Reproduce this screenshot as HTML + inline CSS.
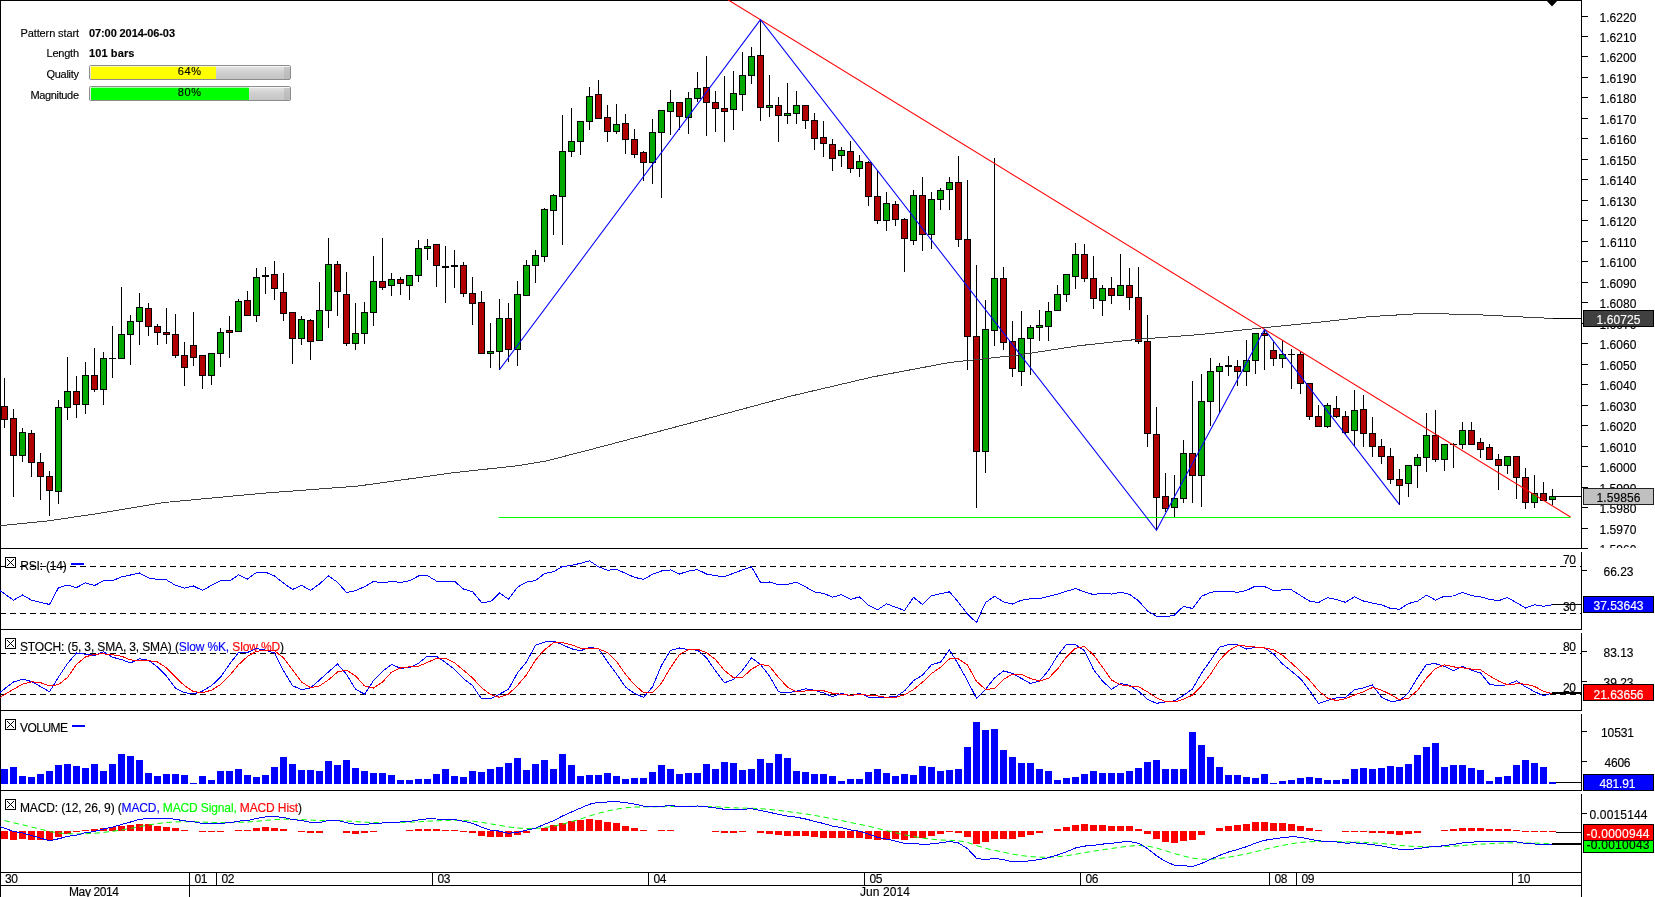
<!DOCTYPE html>
<html><head><meta charset="utf-8"><title>Pattern chart</title>
<style>html,body{margin:0;padding:0;background:#fff}body{width:1655px;height:897px;overflow:hidden;position:relative}svg{position:absolute;left:0;top:0;display:block;will-change:transform}text{font-family:"Liberation Sans",sans-serif;stroke-width:.15px}</style>
</head><body>
<svg width="1655" height="897" viewBox="0 0 1655 897">
<g shape-rendering="crispEdges">
<line x1="0" y1="0.5" x2="1582" y2="0.5" stroke="#000" stroke-width="1"/>
<line x1="0.5" y1="0" x2="0.5" y2="897" stroke="#000" stroke-width="1"/>
<line x1="1581.5" y1="0" x2="1581.5" y2="549" stroke="#000" stroke-width="1"/>
<line x1="0" y1="548.5" x2="1588" y2="548.5" stroke="#000" stroke-width="1"/>
<line x1="1582" y1="16.5" x2="1588" y2="16.5" stroke="#000" stroke-width="1"/>
<line x1="1582" y1="36.5" x2="1588" y2="36.5" stroke="#000" stroke-width="1"/>
<line x1="1582" y1="56.5" x2="1588" y2="56.5" stroke="#000" stroke-width="1"/>
<line x1="1582" y1="77.5" x2="1588" y2="77.5" stroke="#000" stroke-width="1"/>
<line x1="1582" y1="97.5" x2="1588" y2="97.5" stroke="#000" stroke-width="1"/>
<line x1="1582" y1="118.5" x2="1588" y2="118.5" stroke="#000" stroke-width="1"/>
<line x1="1582" y1="138.5" x2="1588" y2="138.5" stroke="#000" stroke-width="1"/>
<line x1="1582" y1="159.5" x2="1588" y2="159.5" stroke="#000" stroke-width="1"/>
<line x1="1582" y1="179.5" x2="1588" y2="179.5" stroke="#000" stroke-width="1"/>
<line x1="1582" y1="200.5" x2="1588" y2="200.5" stroke="#000" stroke-width="1"/>
<line x1="1582" y1="220.5" x2="1588" y2="220.5" stroke="#000" stroke-width="1"/>
<line x1="1582" y1="241.5" x2="1588" y2="241.5" stroke="#000" stroke-width="1"/>
<line x1="1582" y1="261.5" x2="1588" y2="261.5" stroke="#000" stroke-width="1"/>
<line x1="1582" y1="282.5" x2="1588" y2="282.5" stroke="#000" stroke-width="1"/>
<line x1="1582" y1="302.5" x2="1588" y2="302.5" stroke="#000" stroke-width="1"/>
<line x1="1582" y1="323.5" x2="1588" y2="323.5" stroke="#000" stroke-width="1"/>
<line x1="1582" y1="343.5" x2="1588" y2="343.5" stroke="#000" stroke-width="1"/>
<line x1="1582" y1="364.5" x2="1588" y2="364.5" stroke="#000" stroke-width="1"/>
<line x1="1582" y1="384.5" x2="1588" y2="384.5" stroke="#000" stroke-width="1"/>
<line x1="1582" y1="405.5" x2="1588" y2="405.5" stroke="#000" stroke-width="1"/>
<line x1="1582" y1="425.5" x2="1588" y2="425.5" stroke="#000" stroke-width="1"/>
<line x1="1582" y1="446.5" x2="1588" y2="446.5" stroke="#000" stroke-width="1"/>
<line x1="1582" y1="466.5" x2="1588" y2="466.5" stroke="#000" stroke-width="1"/>
<line x1="1582" y1="487.5" x2="1588" y2="487.5" stroke="#000" stroke-width="1"/>
<line x1="1582" y1="507.5" x2="1588" y2="507.5" stroke="#000" stroke-width="1"/>
<line x1="1582" y1="528.5" x2="1588" y2="528.5" stroke="#000" stroke-width="1"/>
</g>
<clipPath id="cm"><rect x="1582" y="0" width="73" height="548"/></clipPath>
<g font-family="Liberation Sans, sans-serif" clip-path="url(#cm)">
<text x="1599.5" y="22" font-size="12" fill="#000" stroke="#000" text-anchor="start" font-weight="normal" textLength="37" lengthAdjust="spacing">1.6220</text>
<text x="1599.5" y="42" font-size="12" fill="#000" stroke="#000" text-anchor="start" font-weight="normal" textLength="37" lengthAdjust="spacing">1.6210</text>
<text x="1599.5" y="62" font-size="12" fill="#000" stroke="#000" text-anchor="start" font-weight="normal" textLength="37" lengthAdjust="spacing">1.6200</text>
<text x="1599.5" y="83" font-size="12" fill="#000" stroke="#000" text-anchor="start" font-weight="normal" textLength="37" lengthAdjust="spacing">1.6190</text>
<text x="1599.5" y="103" font-size="12" fill="#000" stroke="#000" text-anchor="start" font-weight="normal" textLength="37" lengthAdjust="spacing">1.6180</text>
<text x="1599.5" y="124" font-size="12" fill="#000" stroke="#000" text-anchor="start" font-weight="normal" textLength="37" lengthAdjust="spacing">1.6170</text>
<text x="1599.5" y="144" font-size="12" fill="#000" stroke="#000" text-anchor="start" font-weight="normal" textLength="37" lengthAdjust="spacing">1.6160</text>
<text x="1599.5" y="165" font-size="12" fill="#000" stroke="#000" text-anchor="start" font-weight="normal" textLength="37" lengthAdjust="spacing">1.6150</text>
<text x="1599.5" y="185" font-size="12" fill="#000" stroke="#000" text-anchor="start" font-weight="normal" textLength="37" lengthAdjust="spacing">1.6140</text>
<text x="1599.5" y="206" font-size="12" fill="#000" stroke="#000" text-anchor="start" font-weight="normal" textLength="37" lengthAdjust="spacing">1.6130</text>
<text x="1599.5" y="226" font-size="12" fill="#000" stroke="#000" text-anchor="start" font-weight="normal" textLength="37" lengthAdjust="spacing">1.6120</text>
<text x="1599.5" y="247" font-size="12" fill="#000" stroke="#000" text-anchor="start" font-weight="normal" textLength="37" lengthAdjust="spacing">1.6110</text>
<text x="1599.5" y="267" font-size="12" fill="#000" stroke="#000" text-anchor="start" font-weight="normal" textLength="37" lengthAdjust="spacing">1.6100</text>
<text x="1599.5" y="288" font-size="12" fill="#000" stroke="#000" text-anchor="start" font-weight="normal" textLength="37" lengthAdjust="spacing">1.6090</text>
<text x="1599.5" y="308" font-size="12" fill="#000" stroke="#000" text-anchor="start" font-weight="normal" textLength="37" lengthAdjust="spacing">1.6080</text>
<text x="1599.5" y="329" font-size="12" fill="#000" stroke="#000" text-anchor="start" font-weight="normal" textLength="37" lengthAdjust="spacing">1.6070</text>
<text x="1599.5" y="349" font-size="12" fill="#000" stroke="#000" text-anchor="start" font-weight="normal" textLength="37" lengthAdjust="spacing">1.6060</text>
<text x="1599.5" y="370" font-size="12" fill="#000" stroke="#000" text-anchor="start" font-weight="normal" textLength="37" lengthAdjust="spacing">1.6050</text>
<text x="1599.5" y="390" font-size="12" fill="#000" stroke="#000" text-anchor="start" font-weight="normal" textLength="37" lengthAdjust="spacing">1.6040</text>
<text x="1599.5" y="411" font-size="12" fill="#000" stroke="#000" text-anchor="start" font-weight="normal" textLength="37" lengthAdjust="spacing">1.6030</text>
<text x="1599.5" y="431" font-size="12" fill="#000" stroke="#000" text-anchor="start" font-weight="normal" textLength="37" lengthAdjust="spacing">1.6020</text>
<text x="1599.5" y="452" font-size="12" fill="#000" stroke="#000" text-anchor="start" font-weight="normal" textLength="37" lengthAdjust="spacing">1.6010</text>
<text x="1599.5" y="472" font-size="12" fill="#000" stroke="#000" text-anchor="start" font-weight="normal" textLength="37" lengthAdjust="spacing">1.6000</text>
<text x="1599.5" y="493" font-size="12" fill="#000" stroke="#000" text-anchor="start" font-weight="normal" textLength="37" lengthAdjust="spacing">1.5990</text>
<text x="1599.5" y="513" font-size="12" fill="#000" stroke="#000" text-anchor="start" font-weight="normal" textLength="37" lengthAdjust="spacing">1.5980</text>
<text x="1599.5" y="534" font-size="12" fill="#000" stroke="#000" text-anchor="start" font-weight="normal" textLength="37" lengthAdjust="spacing">1.5970</text>
<text x="1599.5" y="554" font-size="12" fill="#000" stroke="#000" text-anchor="start" font-weight="normal" textLength="37" lengthAdjust="spacing">1.5960</text>
</g>
<g shape-rendering="crispEdges" stroke="#000" stroke-width="1">
<line x1="4.5" y1="378" x2="4.5" y2="428"/>
<rect x="1.5" y="406.5" width="6" height="13" fill="#b00000"/>
<line x1="13.5" y1="409" x2="13.5" y2="497"/>
<rect x="10.5" y="418.5" width="6" height="37" fill="#b00000"/>
<line x1="22.5" y1="428" x2="22.5" y2="462"/>
<rect x="19.5" y="432.5" width="6" height="23" fill="#00a800"/>
<line x1="31.5" y1="430" x2="31.5" y2="477"/>
<rect x="28.5" y="433.5" width="6" height="29" fill="#b00000"/>
<line x1="40.5" y1="453" x2="40.5" y2="500"/>
<rect x="37.5" y="462.5" width="6" height="14" fill="#b00000"/>
<line x1="49.5" y1="471" x2="49.5" y2="516"/>
<rect x="46.5" y="476.5" width="6" height="14" fill="#b00000"/>
<line x1="58.5" y1="400" x2="58.5" y2="504"/>
<rect x="55.5" y="407.5" width="6" height="84" fill="#00a800"/>
<line x1="67.5" y1="357" x2="67.5" y2="420"/>
<rect x="64.5" y="391.5" width="6" height="16" fill="#00a800"/>
<line x1="76.5" y1="376" x2="76.5" y2="418"/>
<rect x="73.5" y="391.5" width="6" height="13" fill="#b00000"/>
<line x1="85.5" y1="362" x2="85.5" y2="414"/>
<rect x="82.5" y="375.5" width="6" height="29" fill="#00a800"/>
<line x1="94.5" y1="348" x2="94.5" y2="392"/>
<rect x="91.5" y="375.5" width="6" height="14" fill="#b00000"/>
<line x1="103.5" y1="352" x2="103.5" y2="405"/>
<rect x="100.5" y="358.5" width="6" height="31" fill="#00a800"/>
<line x1="112.5" y1="326" x2="112.5" y2="378"/>
<line x1="109.0" y1="358.5" x2="116.0" y2="358.5"/>
<line x1="121.5" y1="287" x2="121.5" y2="358"/>
<rect x="118.5" y="334.5" width="6" height="24" fill="#00a800"/>
<line x1="130.5" y1="315" x2="130.5" y2="365"/>
<rect x="127.5" y="321.5" width="6" height="13" fill="#00a800"/>
<line x1="139.5" y1="293" x2="139.5" y2="345"/>
<rect x="136.5" y="307.5" width="6" height="14" fill="#00a800"/>
<line x1="148.5" y1="303" x2="148.5" y2="336"/>
<rect x="145.5" y="308.5" width="6" height="18" fill="#b00000"/>
<line x1="157.5" y1="324" x2="157.5" y2="345"/>
<rect x="154.5" y="326.5" width="6" height="6" fill="#b00000"/>
<line x1="166.5" y1="308" x2="166.5" y2="344"/>
<rect x="163.5" y="332.5" width="6" height="2" fill="#b00000"/>
<line x1="175.5" y1="314" x2="175.5" y2="358"/>
<rect x="172.5" y="334.5" width="6" height="21" fill="#b00000"/>
<line x1="184.5" y1="342" x2="184.5" y2="386"/>
<rect x="181.5" y="355.5" width="6" height="12" fill="#b00000"/>
<line x1="193.5" y1="312" x2="193.5" y2="366"/>
<rect x="190.5" y="345.5" width="6" height="12" fill="#b00000"/>
<line x1="202.5" y1="355" x2="202.5" y2="389"/>
<rect x="199.5" y="355.5" width="6" height="20" fill="#b00000"/>
<line x1="211.5" y1="353" x2="211.5" y2="385"/>
<rect x="208.5" y="353.5" width="6" height="22" fill="#00a800"/>
<line x1="220.5" y1="328" x2="220.5" y2="367"/>
<rect x="217.5" y="332.5" width="6" height="21" fill="#00a800"/>
<line x1="229.5" y1="316" x2="229.5" y2="358"/>
<rect x="226.5" y="330.5" width="6" height="2" fill="#b00000"/>
<line x1="238.5" y1="299" x2="238.5" y2="332"/>
<rect x="235.5" y="301.5" width="6" height="30" fill="#00a800"/>
<line x1="247.5" y1="291" x2="247.5" y2="316"/>
<rect x="244.5" y="300.5" width="6" height="15" fill="#b00000"/>
<line x1="256.5" y1="268" x2="256.5" y2="322"/>
<rect x="253.5" y="277.5" width="6" height="38" fill="#00a800"/>
<line x1="265.5" y1="267" x2="265.5" y2="294"/>
<rect x="262.0" y="275" width="7" height="2" fill="#000" stroke="none"/>
<line x1="274.5" y1="261" x2="274.5" y2="300"/>
<rect x="271.5" y="274.5" width="6" height="14" fill="#b00000"/>
<line x1="283.5" y1="273" x2="283.5" y2="321"/>
<rect x="280.5" y="292.5" width="6" height="21" fill="#b00000"/>
<line x1="292.5" y1="312" x2="292.5" y2="364"/>
<rect x="289.5" y="312.5" width="6" height="26" fill="#b00000"/>
<line x1="301.5" y1="316" x2="301.5" y2="345"/>
<rect x="298.5" y="319.5" width="6" height="19" fill="#00a800"/>
<line x1="310.5" y1="319" x2="310.5" y2="360"/>
<rect x="307.5" y="320.5" width="6" height="21" fill="#b00000"/>
<line x1="319.5" y1="282" x2="319.5" y2="340"/>
<rect x="316.5" y="310.5" width="6" height="30" fill="#00a800"/>
<line x1="328.5" y1="238" x2="328.5" y2="328"/>
<rect x="325.5" y="264.5" width="6" height="46" fill="#00a800"/>
<line x1="337.5" y1="261" x2="337.5" y2="316"/>
<rect x="334.5" y="264.5" width="6" height="27" fill="#b00000"/>
<line x1="346.5" y1="272" x2="346.5" y2="346"/>
<rect x="343.5" y="294.5" width="6" height="49" fill="#b00000"/>
<line x1="355.5" y1="303" x2="355.5" y2="350"/>
<rect x="352.5" y="333.5" width="6" height="10" fill="#00a800"/>
<line x1="364.5" y1="302" x2="364.5" y2="344"/>
<rect x="361.5" y="312.5" width="6" height="21" fill="#00a800"/>
<line x1="373.5" y1="256" x2="373.5" y2="326"/>
<rect x="370.5" y="281.5" width="6" height="31" fill="#00a800"/>
<line x1="382.5" y1="238" x2="382.5" y2="290"/>
<rect x="379.5" y="281.5" width="6" height="6" fill="#b00000"/>
<line x1="391.5" y1="273" x2="391.5" y2="296"/>
<rect x="388.5" y="279.5" width="6" height="6" fill="#00a800"/>
<line x1="400.5" y1="277" x2="400.5" y2="295"/>
<rect x="397.5" y="279.5" width="6" height="4" fill="#b00000"/>
<line x1="409.5" y1="275" x2="409.5" y2="300"/>
<rect x="406.5" y="275.5" width="6" height="10" fill="#00a800"/>
<line x1="418.5" y1="240" x2="418.5" y2="282"/>
<rect x="415.5" y="248.5" width="6" height="27" fill="#00a800"/>
<line x1="427.5" y1="239" x2="427.5" y2="260"/>
<rect x="424.5" y="246.5" width="6" height="2" fill="#00a800"/>
<line x1="436.5" y1="244" x2="436.5" y2="287"/>
<rect x="433.5" y="244.5" width="6" height="21" fill="#b00000"/>
<line x1="445.5" y1="246" x2="445.5" y2="303"/>
<rect x="442.0" y="266" width="7" height="2" fill="#000" stroke="none"/>
<line x1="454.5" y1="250" x2="454.5" y2="288"/>
<rect x="451.0" y="265" width="7" height="2" fill="#000" stroke="none"/>
<line x1="463.5" y1="262" x2="463.5" y2="297"/>
<rect x="460.5" y="265.5" width="6" height="28" fill="#b00000"/>
<line x1="472.5" y1="277" x2="472.5" y2="325"/>
<rect x="469.5" y="293.5" width="6" height="10" fill="#b00000"/>
<line x1="481.5" y1="291" x2="481.5" y2="354"/>
<rect x="478.5" y="302.5" width="6" height="51" fill="#b00000"/>
<line x1="490.5" y1="323" x2="490.5" y2="368"/>
<rect x="487.5" y="351.5" width="6" height="2" fill="#00a800"/>
<line x1="499.5" y1="299" x2="499.5" y2="370"/>
<rect x="496.5" y="318.5" width="6" height="33" fill="#00a800"/>
<line x1="508.5" y1="303" x2="508.5" y2="362"/>
<rect x="505.5" y="318.5" width="6" height="31" fill="#b00000"/>
<line x1="517.5" y1="281" x2="517.5" y2="366"/>
<rect x="514.5" y="294.5" width="6" height="55" fill="#00a800"/>
<line x1="526.5" y1="260" x2="526.5" y2="295"/>
<rect x="523.5" y="265.5" width="6" height="30" fill="#00a800"/>
<line x1="535.5" y1="250" x2="535.5" y2="283"/>
<rect x="532.5" y="255.5" width="6" height="10" fill="#00a800"/>
<line x1="544.5" y1="208" x2="544.5" y2="262"/>
<rect x="541.5" y="209.5" width="6" height="47" fill="#00a800"/>
<line x1="553.5" y1="194" x2="553.5" y2="235"/>
<rect x="550.5" y="195.5" width="6" height="15" fill="#00a800"/>
<line x1="562.5" y1="115" x2="562.5" y2="245"/>
<rect x="559.5" y="151.5" width="6" height="45" fill="#00a800"/>
<line x1="571.5" y1="108" x2="571.5" y2="157"/>
<rect x="568.5" y="141.5" width="6" height="10" fill="#00a800"/>
<line x1="580.5" y1="121" x2="580.5" y2="155"/>
<rect x="577.5" y="121.5" width="6" height="20" fill="#00a800"/>
<line x1="589.5" y1="87" x2="589.5" y2="130"/>
<rect x="586.5" y="96.5" width="6" height="25" fill="#00a800"/>
<line x1="598.5" y1="80" x2="598.5" y2="118"/>
<rect x="595.5" y="94.5" width="6" height="24" fill="#b00000"/>
<line x1="607.5" y1="105" x2="607.5" y2="142"/>
<rect x="604.5" y="117.5" width="6" height="14" fill="#b00000"/>
<line x1="616.5" y1="104" x2="616.5" y2="134"/>
<rect x="613.5" y="124.5" width="6" height="7" fill="#00a800"/>
<line x1="625.5" y1="114" x2="625.5" y2="154"/>
<rect x="622.5" y="123.5" width="6" height="16" fill="#b00000"/>
<line x1="634.5" y1="129" x2="634.5" y2="158"/>
<rect x="631.5" y="139.5" width="6" height="15" fill="#b00000"/>
<line x1="643.5" y1="151" x2="643.5" y2="181"/>
<rect x="640.5" y="152.5" width="6" height="10" fill="#b00000"/>
<line x1="652.5" y1="119" x2="652.5" y2="184"/>
<rect x="649.5" y="132.5" width="6" height="30" fill="#00a800"/>
<line x1="661.5" y1="110" x2="661.5" y2="198"/>
<rect x="658.5" y="110.5" width="6" height="22" fill="#00a800"/>
<line x1="670.5" y1="90" x2="670.5" y2="135"/>
<rect x="667.5" y="102.5" width="6" height="9" fill="#00a800"/>
<line x1="679.5" y1="102" x2="679.5" y2="130"/>
<rect x="676.5" y="102.5" width="6" height="14" fill="#b00000"/>
<line x1="688.5" y1="92" x2="688.5" y2="134"/>
<rect x="685.5" y="98.5" width="6" height="19" fill="#00a800"/>
<line x1="697.5" y1="72" x2="697.5" y2="102"/>
<rect x="694.5" y="88.5" width="6" height="10" fill="#00a800"/>
<line x1="706.5" y1="56" x2="706.5" y2="136"/>
<rect x="703.5" y="87.5" width="6" height="15" fill="#b00000"/>
<line x1="715.5" y1="91" x2="715.5" y2="132"/>
<rect x="712.5" y="102.5" width="6" height="6" fill="#b00000"/>
<line x1="724.5" y1="76" x2="724.5" y2="142"/>
<rect x="721.5" y="108.5" width="6" height="3" fill="#b00000"/>
<line x1="733.5" y1="71" x2="733.5" y2="130"/>
<rect x="730.5" y="93.5" width="6" height="16" fill="#00a800"/>
<line x1="742.5" y1="52" x2="742.5" y2="111"/>
<rect x="739.5" y="75.5" width="6" height="19" fill="#00a800"/>
<line x1="751.5" y1="47" x2="751.5" y2="84"/>
<rect x="748.5" y="56.5" width="6" height="19" fill="#00a800"/>
<line x1="760.5" y1="20" x2="760.5" y2="121"/>
<rect x="757.5" y="55.5" width="6" height="52" fill="#b00000"/>
<line x1="769.5" y1="75" x2="769.5" y2="117"/>
<rect x="766.5" y="105.5" width="6" height="2" fill="#00a800"/>
<line x1="778.5" y1="97" x2="778.5" y2="142"/>
<rect x="775.5" y="105.5" width="6" height="10" fill="#b00000"/>
<line x1="787.5" y1="83" x2="787.5" y2="124"/>
<rect x="784.5" y="113.5" width="6" height="2" fill="#00a800"/>
<line x1="796.5" y1="91" x2="796.5" y2="124"/>
<rect x="793.5" y="105.5" width="6" height="8" fill="#00a800"/>
<line x1="805.5" y1="105" x2="805.5" y2="129"/>
<rect x="802.5" y="105.5" width="6" height="15" fill="#b00000"/>
<line x1="814.5" y1="113" x2="814.5" y2="150"/>
<rect x="811.5" y="120.5" width="6" height="18" fill="#b00000"/>
<line x1="823.5" y1="121" x2="823.5" y2="157"/>
<rect x="820.5" y="137.5" width="6" height="6" fill="#b00000"/>
<line x1="832.5" y1="139" x2="832.5" y2="171"/>
<rect x="829.5" y="144.5" width="6" height="14" fill="#b00000"/>
<line x1="841.5" y1="147" x2="841.5" y2="167"/>
<rect x="838.5" y="150.5" width="6" height="5" fill="#00a800"/>
<line x1="850.5" y1="141" x2="850.5" y2="173"/>
<rect x="847.5" y="151.5" width="6" height="17" fill="#b00000"/>
<line x1="859.5" y1="155" x2="859.5" y2="177"/>
<rect x="856.5" y="161.5" width="6" height="7" fill="#00a800"/>
<line x1="868.5" y1="161" x2="868.5" y2="206"/>
<rect x="865.5" y="162.5" width="6" height="34" fill="#b00000"/>
<line x1="877.5" y1="170" x2="877.5" y2="224"/>
<rect x="874.5" y="196.5" width="6" height="24" fill="#b00000"/>
<line x1="886.5" y1="192" x2="886.5" y2="231"/>
<rect x="883.5" y="203.5" width="6" height="17" fill="#00a800"/>
<line x1="895.5" y1="201" x2="895.5" y2="226"/>
<rect x="892.5" y="204.5" width="6" height="15" fill="#b00000"/>
<line x1="904.5" y1="218" x2="904.5" y2="272"/>
<rect x="901.5" y="219.5" width="6" height="19" fill="#b00000"/>
<line x1="913.5" y1="190" x2="913.5" y2="245"/>
<rect x="910.5" y="195.5" width="6" height="45" fill="#00a800"/>
<line x1="922.5" y1="177" x2="922.5" y2="251"/>
<rect x="919.5" y="195.5" width="6" height="39" fill="#b00000"/>
<line x1="931.5" y1="192" x2="931.5" y2="249"/>
<rect x="928.5" y="199.5" width="6" height="35" fill="#00a800"/>
<line x1="940.5" y1="188" x2="940.5" y2="210"/>
<rect x="937.5" y="190.5" width="6" height="9" fill="#00a800"/>
<line x1="949.5" y1="177" x2="949.5" y2="210"/>
<rect x="946.5" y="182.5" width="6" height="7" fill="#00a800"/>
<line x1="958.5" y1="156" x2="958.5" y2="247"/>
<rect x="955.5" y="182.5" width="6" height="57" fill="#b00000"/>
<line x1="967.5" y1="180" x2="967.5" y2="370"/>
<rect x="964.5" y="239.5" width="6" height="97" fill="#b00000"/>
<line x1="976.5" y1="265" x2="976.5" y2="508"/>
<rect x="973.5" y="336.5" width="6" height="115" fill="#b00000"/>
<line x1="985.5" y1="300" x2="985.5" y2="473"/>
<rect x="982.5" y="329.5" width="6" height="122" fill="#00a800"/>
<line x1="994.5" y1="158" x2="994.5" y2="346"/>
<rect x="991.5" y="278.5" width="6" height="52" fill="#00a800"/>
<line x1="1003.5" y1="267" x2="1003.5" y2="350"/>
<rect x="1000.5" y="278.5" width="6" height="64" fill="#b00000"/>
<line x1="1012.5" y1="321" x2="1012.5" y2="377"/>
<rect x="1009.5" y="341.5" width="6" height="27" fill="#b00000"/>
<line x1="1021.5" y1="311" x2="1021.5" y2="386"/>
<rect x="1018.5" y="338.5" width="6" height="33" fill="#00a800"/>
<line x1="1030.5" y1="325" x2="1030.5" y2="375"/>
<rect x="1027.5" y="327.5" width="6" height="11" fill="#00a800"/>
<line x1="1039.5" y1="310" x2="1039.5" y2="341"/>
<rect x="1036.5" y="325.5" width="6" height="2" fill="#00a800"/>
<line x1="1048.5" y1="302" x2="1048.5" y2="341"/>
<rect x="1045.5" y="311.5" width="6" height="15" fill="#00a800"/>
<line x1="1057.5" y1="285" x2="1057.5" y2="310"/>
<rect x="1054.5" y="294.5" width="6" height="16" fill="#00a800"/>
<line x1="1066.5" y1="274" x2="1066.5" y2="302"/>
<rect x="1063.5" y="274.5" width="6" height="20" fill="#00a800"/>
<line x1="1075.5" y1="243" x2="1075.5" y2="289"/>
<rect x="1072.5" y="254.5" width="6" height="22" fill="#00a800"/>
<line x1="1084.5" y1="244" x2="1084.5" y2="282"/>
<rect x="1081.5" y="254.5" width="6" height="24" fill="#b00000"/>
<line x1="1093.5" y1="256" x2="1093.5" y2="309"/>
<rect x="1090.5" y="278.5" width="6" height="20" fill="#b00000"/>
<line x1="1102.5" y1="285" x2="1102.5" y2="316"/>
<rect x="1099.5" y="288.5" width="6" height="12" fill="#00a800"/>
<line x1="1111.5" y1="277" x2="1111.5" y2="304"/>
<rect x="1108.5" y="288.5" width="6" height="7" fill="#b00000"/>
<line x1="1120.5" y1="254" x2="1120.5" y2="295"/>
<rect x="1117.5" y="285.5" width="6" height="10" fill="#00a800"/>
<line x1="1129.5" y1="268" x2="1129.5" y2="310"/>
<rect x="1126.5" y="285.5" width="6" height="12" fill="#b00000"/>
<line x1="1138.5" y1="267" x2="1138.5" y2="344"/>
<rect x="1135.5" y="297.5" width="6" height="44" fill="#b00000"/>
<line x1="1147.5" y1="315" x2="1147.5" y2="447"/>
<rect x="1144.5" y="341.5" width="6" height="92" fill="#b00000"/>
<line x1="1156.5" y1="407" x2="1156.5" y2="530"/>
<rect x="1153.5" y="434.5" width="6" height="63" fill="#b00000"/>
<line x1="1165.5" y1="473" x2="1165.5" y2="512"/>
<rect x="1162.5" y="496.5" width="6" height="12" fill="#b00000"/>
<line x1="1174.5" y1="475" x2="1174.5" y2="517"/>
<rect x="1171.5" y="498.5" width="6" height="9" fill="#00a800"/>
<line x1="1183.5" y1="440" x2="1183.5" y2="503"/>
<rect x="1180.5" y="453.5" width="6" height="45" fill="#00a800"/>
<line x1="1192.5" y1="381" x2="1192.5" y2="503"/>
<rect x="1189.5" y="453.5" width="6" height="22" fill="#b00000"/>
<line x1="1201.5" y1="374" x2="1201.5" y2="507"/>
<rect x="1198.5" y="401.5" width="6" height="74" fill="#00a800"/>
<line x1="1210.5" y1="358" x2="1210.5" y2="426"/>
<rect x="1207.5" y="371.5" width="6" height="30" fill="#00a800"/>
<line x1="1219.5" y1="363" x2="1219.5" y2="413"/>
<rect x="1216.5" y="366.5" width="6" height="5" fill="#00a800"/>
<line x1="1228.5" y1="356" x2="1228.5" y2="376"/>
<rect x="1225.0" y="365" width="7" height="2" fill="#000" stroke="none"/>
<line x1="1237.5" y1="360" x2="1237.5" y2="386"/>
<rect x="1234.5" y="366.5" width="6" height="5" fill="#b00000"/>
<line x1="1246.5" y1="340" x2="1246.5" y2="386"/>
<rect x="1243.5" y="360.5" width="6" height="11" fill="#00a800"/>
<line x1="1255.5" y1="334" x2="1255.5" y2="374"/>
<rect x="1252.5" y="333.5" width="6" height="27" fill="#00a800"/>
<line x1="1264.5" y1="330" x2="1264.5" y2="370"/>
<rect x="1261.5" y="333.5" width="6" height="2" fill="#b00000"/>
<line x1="1273.5" y1="342" x2="1273.5" y2="366"/>
<rect x="1270.5" y="350.5" width="6" height="8" fill="#b00000"/>
<line x1="1282.5" y1="340" x2="1282.5" y2="368"/>
<rect x="1279.5" y="354.5" width="6" height="4" fill="#00a800"/>
<line x1="1291.5" y1="349" x2="1291.5" y2="389"/>
<line x1="1288.0" y1="354.5" x2="1295.0" y2="354.5"/>
<line x1="1300.5" y1="352" x2="1300.5" y2="394"/>
<rect x="1297.5" y="354.5" width="6" height="29" fill="#b00000"/>
<line x1="1309.5" y1="384" x2="1309.5" y2="420"/>
<rect x="1306.5" y="383.5" width="6" height="33" fill="#b00000"/>
<line x1="1318.5" y1="405" x2="1318.5" y2="426"/>
<rect x="1315.5" y="416.5" width="6" height="10" fill="#b00000"/>
<line x1="1327.5" y1="403" x2="1327.5" y2="428"/>
<rect x="1324.5" y="405.5" width="6" height="21" fill="#00a800"/>
<line x1="1336.5" y1="396" x2="1336.5" y2="418"/>
<rect x="1333.5" y="408.5" width="6" height="8" fill="#b00000"/>
<line x1="1345.5" y1="411" x2="1345.5" y2="434"/>
<rect x="1342.5" y="416.5" width="6" height="16" fill="#b00000"/>
<line x1="1354.5" y1="390" x2="1354.5" y2="446"/>
<rect x="1351.5" y="410.5" width="6" height="20" fill="#00a800"/>
<line x1="1363.5" y1="395" x2="1363.5" y2="447"/>
<rect x="1360.5" y="409.5" width="6" height="24" fill="#b00000"/>
<line x1="1372.5" y1="417" x2="1372.5" y2="457"/>
<rect x="1369.5" y="433.5" width="6" height="13" fill="#b00000"/>
<line x1="1381.5" y1="439" x2="1381.5" y2="464"/>
<rect x="1378.5" y="446.5" width="6" height="10" fill="#b00000"/>
<line x1="1390.5" y1="448" x2="1390.5" y2="484"/>
<rect x="1387.5" y="456.5" width="6" height="23" fill="#b00000"/>
<line x1="1399.5" y1="469" x2="1399.5" y2="505"/>
<rect x="1396.5" y="479.5" width="6" height="6" fill="#b00000"/>
<line x1="1408.5" y1="466" x2="1408.5" y2="497"/>
<rect x="1405.5" y="465.5" width="6" height="18" fill="#00a800"/>
<line x1="1417.5" y1="454" x2="1417.5" y2="488"/>
<rect x="1414.5" y="457.5" width="6" height="8" fill="#00a800"/>
<line x1="1426.5" y1="413" x2="1426.5" y2="472"/>
<rect x="1423.5" y="435.5" width="6" height="22" fill="#00a800"/>
<line x1="1435.5" y1="410" x2="1435.5" y2="462"/>
<rect x="1432.5" y="435.5" width="6" height="24" fill="#b00000"/>
<line x1="1444.5" y1="444" x2="1444.5" y2="471"/>
<rect x="1441.5" y="444.5" width="6" height="15" fill="#00a800"/>
<line x1="1453.5" y1="443" x2="1453.5" y2="468"/>
<line x1="1450.0" y1="444.5" x2="1457.0" y2="444.5"/>
<line x1="1462.5" y1="422" x2="1462.5" y2="449"/>
<rect x="1459.5" y="430.5" width="6" height="14" fill="#00a800"/>
<line x1="1471.5" y1="422" x2="1471.5" y2="444"/>
<rect x="1468.5" y="430.5" width="6" height="14" fill="#b00000"/>
<line x1="1480.5" y1="438" x2="1480.5" y2="458"/>
<rect x="1477.5" y="442.5" width="6" height="7" fill="#b00000"/>
<line x1="1489.5" y1="444" x2="1489.5" y2="460"/>
<rect x="1486.5" y="447.5" width="6" height="12" fill="#b00000"/>
<line x1="1498.5" y1="454" x2="1498.5" y2="490"/>
<rect x="1495.5" y="459.5" width="6" height="6" fill="#b00000"/>
<line x1="1507.5" y1="456" x2="1507.5" y2="474"/>
<rect x="1504.5" y="456.5" width="6" height="9" fill="#00a800"/>
<line x1="1516.5" y1="456" x2="1516.5" y2="499"/>
<rect x="1513.5" y="456.5" width="6" height="21" fill="#b00000"/>
<line x1="1525.5" y1="468" x2="1525.5" y2="509"/>
<rect x="1522.5" y="477.5" width="6" height="25" fill="#b00000"/>
<line x1="1534.5" y1="475" x2="1534.5" y2="508"/>
<rect x="1531.5" y="493.5" width="6" height="9" fill="#00a800"/>
<line x1="1543.5" y1="482" x2="1543.5" y2="500"/>
<rect x="1540.5" y="493.5" width="6" height="7" fill="#b00000"/>
<line x1="1552.5" y1="489" x2="1552.5" y2="505"/>
<rect x="1549.5" y="496.5" width="6" height="3" fill="#00a800"/>
</g>
<polyline fill="none" shape-rendering="crispEdges" stroke="#404040" stroke-width="1" points="0,525.7 48.3,520.9 96.7,513.7 164.3,502.5 261,493.4 357.7,486.1 454.3,472.6 517.2,465.8 546.2,461 604.2,446 676.7,426.7 734.7,411.2 790,396.3 872.2,377 949.5,362.5 1017.2,355.2 1080,345.6 1138,339.3 1200.8,334.5 1263.7,327.7 1321.7,321.9 1370,316.6 1418.3,313.7 1466.7,314.2 1515,316.6 1553.7,318.5"/>
<g shape-rendering="crispEdges">
<line x1="1553" y1="318.5" x2="1582" y2="318.5" stroke="#000" stroke-width="1"/>
</g>
<g fill="none" stroke-width="1.05" stroke-linecap="butt">
<line x1="498.5" y1="517.4" x2="1570.5" y2="517.4" stroke="#00ff00"/>
<line x1="728.3" y1="0" x2="1570.5" y2="517" stroke="#ff0000"/>
<polyline stroke="#0000ff" points="499.5,369.6 760.5,19.7 1156.5,530.2 1264.5,329.5 1399.5,504.6"/>
</g>
<g shape-rendering="crispEdges">
<line x1="1556" y1="496.5" x2="1582" y2="496.5" stroke="#000" stroke-width="1"/>
</g>
<polygon points="1546,0 1558,0 1552,6.5" fill="#000"/>
<g font-family="Liberation Sans, sans-serif">
<rect x="1583.5" y="310.5" width="70" height="16" fill="#404040" stroke="#000" shape-rendering="crispEdges"/>
<text x="1596.5" y="324" font-size="12" fill="#fff" stroke="#fff" text-anchor="start" font-weight="normal" textLength="44" lengthAdjust="spacing">1.60725</text>
<rect x="1583.5" y="488.5" width="70" height="16" fill="#c0c0c0" stroke="#202020" shape-rendering="crispEdges"/>
<text x="1596.5" y="502" font-size="12" fill="#000" stroke="#000" text-anchor="start" font-weight="normal" textLength="44" lengthAdjust="spacing">1.59856</text>
</g>
<g font-family="Liberation Sans, sans-serif" font-size="11">
<text x="79" y="37" font-size="11" fill="#000" stroke="#000" text-anchor="end" font-weight="normal" textLength="58.5" lengthAdjust="spacing">Pattern start</text>
<text x="79" y="57" font-size="11" fill="#000" stroke="#000" text-anchor="end" font-weight="normal" textLength="32.5" lengthAdjust="spacing">Length</text>
<text x="79" y="78" font-size="11" fill="#000" stroke="#000" text-anchor="end" font-weight="normal" textLength="32.5" lengthAdjust="spacing">Quality</text>
<text x="79" y="99" font-size="11" fill="#000" stroke="#000" text-anchor="end" font-weight="normal" textLength="48.5" lengthAdjust="spacing">Magnitude</text>
<text x="89" y="37" font-size="11" fill="#000" stroke="#000" text-anchor="start" font-weight="bold" textLength="86" lengthAdjust="spacing">07:00 2014-06-03</text>
<text x="89" y="57" font-size="11" fill="#000" stroke="#000" text-anchor="start" font-weight="bold" textLength="45.4" lengthAdjust="spacing">101 bars</text>
</g>
<defs><linearGradient id="pg" x1="0" y1="0" x2="0" y2="1"><stop offset="0" stop-color="#e8e8e8"/><stop offset="0.45" stop-color="#d0d0d0"/><stop offset="1" stop-color="#c4c4c4"/></linearGradient></defs>
<rect x="89.5" y="65.5" width="201" height="14" rx="1.5" fill="url(#pg)" stroke="#8c8c8c"/>
<rect x="91" y="66" width="125" height="13" fill="#ffff00"/>
<rect x="90" y="66" width="200" height="1" fill="#fff" opacity="0.65"/>
<rect x="90" y="66" width="1" height="13" fill="#fff" opacity="0.5"/>
<rect x="284" y="67" width="6" height="12" fill="#b0b0b0" opacity="0.5"/>
<text x="189.5" y="75" font-size="11" fill="#000" stroke="#000" text-anchor="middle" font-weight="normal" textLength="23.3" lengthAdjust="spacing" font-family="Liberation Sans, sans-serif">64%</text>
<rect x="89.5" y="86.5" width="201" height="14" rx="1.5" fill="url(#pg)" stroke="#8c8c8c"/>
<rect x="91" y="87" width="158" height="13" fill="#00ff00"/>
<rect x="90" y="87" width="200" height="1" fill="#fff" opacity="0.65"/>
<rect x="90" y="87" width="1" height="13" fill="#fff" opacity="0.5"/>
<rect x="284" y="88" width="6" height="12" fill="#b0b0b0" opacity="0.5"/>
<text x="189.5" y="96" font-size="11" fill="#000" stroke="#000" text-anchor="middle" font-weight="normal" textLength="23.3" lengthAdjust="spacing" font-family="Liberation Sans, sans-serif">80%</text>
<g shape-rendering="crispEdges">
<line x1="1581.5" y1="552" x2="1581.5" y2="630" stroke="#000" stroke-width="1"/>
<line x1="0" y1="629.5" x2="1582" y2="629.5" stroke="#000" stroke-width="1"/>
</g>
<g shape-rendering="crispEdges">
<line x1="1581.5" y1="633" x2="1581.5" y2="711" stroke="#000" stroke-width="1"/>
<line x1="0" y1="710.5" x2="1582" y2="710.5" stroke="#000" stroke-width="1"/>
</g>
<g shape-rendering="crispEdges">
<line x1="1581.5" y1="714" x2="1581.5" y2="791" stroke="#000" stroke-width="1"/>
<line x1="0" y1="790.5" x2="1582" y2="790.5" stroke="#000" stroke-width="1"/>
</g>
<g shape-rendering="crispEdges">
<line x1="1581.5" y1="794" x2="1581.5" y2="897" stroke="#000" stroke-width="1"/>
</g>
<line x1="0" y1="566.5" x2="1581" y2="566.5" stroke="#000" stroke-width="1" stroke-dasharray="6,4" shape-rendering="crispEdges"/>
<line x1="0" y1="613.5" x2="1581" y2="613.5" stroke="#000" stroke-width="1" stroke-dasharray="6,4" shape-rendering="crispEdges"/>
<g shape-rendering="crispEdges" stroke="#000" fill="#fff"><rect x="5.5" y="557.5" width="10" height="10"/></g><path d="M7 559L14 566M14 559L7 566" stroke="#000" stroke-width="1" fill="none"/>
<g font-family="Liberation Sans, sans-serif">
<text x="20.3" y="570" font-size="12" fill="#000" stroke="#000" text-anchor="start" font-weight="normal" textLength="46.5" lengthAdjust="spacing">RSI: (14)</text>
<line x1="71" y1="564" x2="84" y2="564" stroke="#0000ff" stroke-width="2" shape-rendering="crispEdges"/>
<text x="1563" y="564" font-size="12" fill="#000" stroke="#000" text-anchor="start" font-weight="normal" textLength="13" lengthAdjust="spacing">70</text>
<text x="1563" y="610.5" font-size="12" fill="#000" stroke="#000" text-anchor="start" font-weight="normal" textLength="13" lengthAdjust="spacing">30</text>
<text x="1603.5" y="576" font-size="12" fill="#000" stroke="#000" text-anchor="start" font-weight="normal" textLength="30" lengthAdjust="spacing">66.23</text>
</g>
<g shape-rendering="crispEdges">
<line x1="1582" y1="570.5" x2="1587" y2="570.5" stroke="#000" stroke-width="1"/>
</g>
<rect x="1583.5" y="596.5" width="70" height="16" fill="#0000ff" stroke="#000" shape-rendering="crispEdges"/>
<text x="1593.5" y="610" font-size="12" fill="#fff" stroke="#fff" text-anchor="start" font-weight="normal" textLength="50" lengthAdjust="spacing" font-family="Liberation Sans, sans-serif">37.53643</text>
<line x1="0" y1="653.5" x2="1581" y2="653.5" stroke="#000" stroke-width="1" stroke-dasharray="6,4" shape-rendering="crispEdges"/>
<line x1="0" y1="694.5" x2="1581" y2="694.5" stroke="#000" stroke-width="1" stroke-dasharray="6,4" shape-rendering="crispEdges"/>
<g shape-rendering="crispEdges" stroke="#000" fill="#fff"><rect x="5.5" y="638.5" width="10" height="10"/></g><path d="M7 640L14 647M14 640L7 647" stroke="#000" stroke-width="1" fill="none"/>
<g font-family="Liberation Sans, sans-serif">
<text x="20" y="651" font-size="12" stroke="#000" textLength="264" lengthAdjust="spacing">STOCH: (5, 3, SMA, 3, SMA) (<tspan fill="#0000ff" stroke="#0000ff">Slow %K</tspan><tspan fill="#0000ff" stroke="#0000ff">,</tspan> <tspan fill="#ff0000" stroke="#ff0000">Slow %D</tspan>)</text>
<text x="1563" y="651" font-size="12" fill="#000" stroke="#000" text-anchor="start" font-weight="normal" textLength="13" lengthAdjust="spacing">80</text>
<text x="1563" y="692" font-size="12" fill="#000" stroke="#000" text-anchor="start" font-weight="normal" textLength="13" lengthAdjust="spacing">20</text>
<text x="1603.5" y="657" font-size="12" fill="#000" stroke="#000" text-anchor="start" font-weight="normal" textLength="30" lengthAdjust="spacing">83.13</text>
<text x="1603.5" y="686.5" font-size="12" fill="#000" stroke="#000" text-anchor="start" font-weight="normal" textLength="30" lengthAdjust="spacing">39.23</text>
</g>
<g shape-rendering="crispEdges">
<line x1="1582" y1="651.5" x2="1587" y2="651.5" stroke="#000" stroke-width="1"/>
<line x1="1582" y1="681.5" x2="1587" y2="681.5" stroke="#000" stroke-width="1"/>
</g>
<rect x="1583.5" y="684.5" width="70" height="16" fill="#ff0000" stroke="#000" shape-rendering="crispEdges"/>
<text x="1593.5" y="698.5" font-size="12" fill="#fff" stroke="#fff" text-anchor="start" font-weight="normal" textLength="50" lengthAdjust="spacing" font-family="Liberation Sans, sans-serif">21.63656</text>
<g shape-rendering="crispEdges" stroke="#000" fill="#fff"><rect x="5.5" y="719.5" width="10" height="10"/></g><path d="M7 721L14 728M14 721L7 728" stroke="#000" stroke-width="1" fill="none"/>
<g font-family="Liberation Sans, sans-serif">
<text x="20" y="731.5" font-size="12" fill="#000" stroke="#000" text-anchor="start" font-weight="normal" textLength="48" lengthAdjust="spacing">VOLUME</text>
<line x1="72" y1="726" x2="85" y2="726" stroke="#0000ff" stroke-width="2" shape-rendering="crispEdges"/>
<text x="1601" y="736.5" font-size="12" fill="#000" stroke="#000" text-anchor="start" font-weight="normal" textLength="33" lengthAdjust="spacing">10531</text>
<text x="1604.5" y="766.5" font-size="12" fill="#000" stroke="#000" text-anchor="start" font-weight="normal" textLength="26" lengthAdjust="spacing">4606</text>
</g>
<g shape-rendering="crispEdges">
<line x1="1582" y1="731.5" x2="1587" y2="731.5" stroke="#000" stroke-width="1"/>
<line x1="1582" y1="761.5" x2="1587" y2="761.5" stroke="#000" stroke-width="1"/>
<line x1="1556" y1="782.5" x2="1582" y2="782.5" stroke="#000" stroke-width="1"/>
</g>
<rect x="1583.5" y="774.5" width="70" height="16" fill="#0000ff" stroke="#000" shape-rendering="crispEdges"/>
<text x="1599.5" y="788" font-size="12" fill="#fff" stroke="#fff" text-anchor="start" font-weight="normal" textLength="36" lengthAdjust="spacing" font-family="Liberation Sans, sans-serif">481.91</text>
<g shape-rendering="crispEdges" stroke="#000" fill="#fff"><rect x="5.5" y="799.5" width="10" height="10"/></g><path d="M7 801L14 808M14 801L7 808" stroke="#000" stroke-width="1" fill="none"/>
<g font-family="Liberation Sans, sans-serif">
<text x="20" y="811.5" font-size="12" stroke="#000" textLength="282" lengthAdjust="spacing">MACD: (12, 26, 9) (<tspan fill="#0000ff" stroke="#0000ff">MACD,</tspan> <tspan fill="#00ff00" stroke="#00ff00">MACD Signal,</tspan> <tspan fill="#ff0000" stroke="#ff0000">MACD Hist</tspan>)</text>
<text x="1589.5" y="819" font-size="12" fill="#000" stroke="#000" text-anchor="start" font-weight="normal" textLength="58" lengthAdjust="spacing">0.0015144</text>
</g>
<g shape-rendering="crispEdges">
<line x1="1582" y1="813.5" x2="1587" y2="813.5" stroke="#000" stroke-width="1"/>
<line x1="1556" y1="832.5" x2="1582" y2="832.5" stroke="#000" stroke-width="1"/>
<line x1="1552" y1="843.5" x2="1582" y2="843.5" stroke="#000" stroke-width="2"/>
</g>
<rect x="1583.5" y="836.5" width="70" height="16" fill="#00ff00" stroke="#000" shape-rendering="crispEdges"/>
<text x="1586.5" y="849" font-size="12" fill="#000" stroke="#000" text-anchor="start" font-weight="normal" textLength="63" lengthAdjust="spacing" font-family="Liberation Sans, sans-serif">-0.0010043</text>
<rect x="1583.5" y="824.5" width="70" height="16" fill="#ff0000" stroke="#000" shape-rendering="crispEdges"/>
<text x="1586.5" y="838" font-size="12" fill="#fff" stroke="#fff" text-anchor="start" font-weight="normal" textLength="63" lengthAdjust="spacing" font-family="Liberation Sans, sans-serif">-0.0000944</text>
<g shape-rendering="crispEdges">
<line x1="0" y1="872.5" x2="1582" y2="872.5" stroke="#000" stroke-width="1"/>
<line x1="0" y1="885.5" x2="1582" y2="885.5" stroke="#000" stroke-width="1"/>
<line x1="216.5" y1="873" x2="216.5" y2="885" stroke="#000" stroke-width="1"/>
<line x1="432.5" y1="873" x2="432.5" y2="885" stroke="#000" stroke-width="1"/>
<line x1="648.5" y1="873" x2="648.5" y2="885" stroke="#000" stroke-width="1"/>
<line x1="864.5" y1="873" x2="864.5" y2="885" stroke="#000" stroke-width="1"/>
<line x1="1080.5" y1="873" x2="1080.5" y2="885" stroke="#000" stroke-width="1"/>
<line x1="1296.5" y1="873" x2="1296.5" y2="885" stroke="#000" stroke-width="1"/>
<line x1="1512.5" y1="873" x2="1512.5" y2="885" stroke="#000" stroke-width="1"/>
<line x1="189.5" y1="873" x2="189.5" y2="897" stroke="#000" stroke-width="1"/>
<line x1="1269.5" y1="873" x2="1269.5" y2="885" stroke="#000" stroke-width="1"/>
</g>
<g font-family="Liberation Sans, sans-serif">
<text x="5" y="883" font-size="12" fill="#000" stroke="#000" text-anchor="start" font-weight="normal" textLength="13" lengthAdjust="spacing">30</text>
<text x="194.5" y="883" font-size="12" fill="#000" stroke="#000" text-anchor="start" font-weight="normal" textLength="13" lengthAdjust="spacing">01</text>
<text x="221.5" y="883" font-size="12" fill="#000" stroke="#000" text-anchor="start" font-weight="normal" textLength="13" lengthAdjust="spacing">02</text>
<text x="437.5" y="883" font-size="12" fill="#000" stroke="#000" text-anchor="start" font-weight="normal" textLength="13" lengthAdjust="spacing">03</text>
<text x="653.5" y="883" font-size="12" fill="#000" stroke="#000" text-anchor="start" font-weight="normal" textLength="13" lengthAdjust="spacing">04</text>
<text x="869.5" y="883" font-size="12" fill="#000" stroke="#000" text-anchor="start" font-weight="normal" textLength="13" lengthAdjust="spacing">05</text>
<text x="1085.5" y="883" font-size="12" fill="#000" stroke="#000" text-anchor="start" font-weight="normal" textLength="13" lengthAdjust="spacing">06</text>
<text x="1274.5" y="883" font-size="12" fill="#000" stroke="#000" text-anchor="start" font-weight="normal" textLength="13" lengthAdjust="spacing">08</text>
<text x="1301.5" y="883" font-size="12" fill="#000" stroke="#000" text-anchor="start" font-weight="normal" textLength="13" lengthAdjust="spacing">09</text>
<text x="1517.5" y="883" font-size="12" fill="#000" stroke="#000" text-anchor="start" font-weight="normal" textLength="13" lengthAdjust="spacing">10</text>
<text x="69" y="895.5" font-size="12" fill="#000" stroke="#000" text-anchor="start" font-weight="normal" textLength="50" lengthAdjust="spacing">May 2014</text>
<text x="860" y="895.5" font-size="12" fill="#000" stroke="#000" text-anchor="start" font-weight="normal" textLength="50" lengthAdjust="spacing">Jun 2014</text>
</g>
<polyline fill="none" shape-rendering="crispEdges" stroke="#0000ff" stroke-width="1" points="-4.5,587.4 4.5,593.8 13.5,600.2 22.5,595.0 31.5,600.1 40.5,602.3 49.5,604.5 58.5,587.7 67.5,585.1 76.5,587.6 85.5,582.8 94.5,585.6 103.5,580.7 112.5,580.7 121.5,576.9 130.5,575.0 139.5,573.0 148.5,577.9 157.5,579.4 166.5,579.9 175.5,585.3 184.5,588.2 193.5,586.0 202.5,590.4 211.5,585.3 220.5,580.9 229.5,581.0 238.5,574.9 247.5,579.1 256.5,572.4 265.5,572.1 274.5,576.0 283.5,583.1 292.5,589.5 301.5,585.2 310.5,590.5 319.5,583.9 328.5,575.9 337.5,582.3 346.5,592.5 355.5,590.6 364.5,586.7 373.5,581.5 382.5,582.8 391.5,581.4 400.5,582.4 409.5,580.8 418.5,576.0 427.5,575.7 436.5,581.1 445.5,581.4 454.5,581.2 463.5,589.1 472.5,591.6 481.5,602.4 490.5,601.8 499.5,592.9 508.5,599.3 517.5,587.2 526.5,582.1 535.5,580.5 544.5,573.6 553.5,571.7 562.5,566.5 571.5,565.4 580.5,563.3 589.5,560.9 598.5,566.8 607.5,570.3 616.5,569.3 625.5,573.4 634.5,577.3 643.5,579.4 652.5,574.3 661.5,571.0 670.5,569.9 679.5,574.0 688.5,571.1 697.5,569.6 706.5,574.0 715.5,575.8 724.5,576.7 733.5,573.2 742.5,569.9 751.5,566.8 760.5,582.4 769.5,582.0 778.5,584.8 787.5,584.3 796.5,582.3 805.5,586.9 814.5,592.0 823.5,593.3 832.5,597.2 841.5,594.6 850.5,599.4 859.5,596.9 868.5,605.2 877.5,609.8 886.5,603.9 895.5,607.1 904.5,610.5 913.5,597.3 922.5,604.5 931.5,595.7 940.5,593.7 949.5,591.8 958.5,602.4 967.5,614.1 976.5,622.6 985.5,602.6 994.5,596.2 1003.5,601.9 1012.5,604.0 1021.5,600.2 1030.5,598.8 1039.5,598.5 1048.5,596.5 1057.5,594.1 1066.5,591.3 1075.5,588.5 1084.5,591.9 1093.5,594.6 1102.5,593.1 1111.5,594.1 1120.5,592.3 1129.5,594.3 1138.5,600.8 1147.5,611.0 1156.5,616.2 1165.5,617.0 1174.5,615.0 1183.5,606.3 1192.5,608.5 1201.5,596.4 1210.5,592.2 1219.5,591.5 1228.5,591.4 1237.5,592.3 1246.5,590.4 1255.5,586.1 1264.5,586.5 1273.5,590.6 1282.5,589.9 1291.5,589.9 1300.5,595.5 1309.5,601.0 1318.5,602.6 1327.5,597.6 1336.5,599.6 1345.5,602.3 1354.5,596.8 1363.5,601.0 1372.5,603.2 1381.5,604.8 1390.5,608.4 1399.5,609.3 1408.5,603.5 1417.5,601.2 1426.5,595.2 1435.5,600.1 1444.5,596.1 1453.5,596.0 1462.5,592.3 1471.5,595.7 1480.5,596.8 1489.5,599.3 1498.5,600.7 1507.5,597.6 1516.5,602.7 1525.5,608.0 1534.5,604.7 1543.5,606.2 1552.5,604.8"/>
<polyline fill="none" shape-rendering="crispEdges" stroke="#0000ff" stroke-width="1" points="-4.5,695.8 4.5,688.9 13.5,682.0 22.5,679.2 31.5,681.5 40.5,686.5 49.5,691.8 58.5,677.0 67.5,663.5 76.5,653.0 85.5,654.2 94.5,655.4 103.5,651.8 112.5,657.2 121.5,659.6 130.5,662.9 139.5,658.8 148.5,660.2 157.5,666.9 166.5,676.2 175.5,688.2 184.5,692.7 193.5,694.0 202.5,691.1 211.5,685.7 220.5,677.2 229.5,664.2 238.5,652.6 247.5,652.5 256.5,648.5 265.5,650.1 274.5,653.0 283.5,670.6 292.5,685.6 301.5,689.7 310.5,687.9 319.5,680.0 328.5,671.9 337.5,664.0 346.5,674.4 355.5,689.1 364.5,694.2 373.5,680.6 382.5,671.3 391.5,664.5 400.5,668.2 409.5,667.7 418.5,663.2 427.5,656.1 436.5,656.3 445.5,662.4 454.5,669.3 463.5,678.8 472.5,685.6 481.5,698.8 490.5,699.0 499.5,694.2 508.5,689.2 517.5,672.9 526.5,662.1 535.5,645.2 544.5,642.1 553.5,641.1 562.5,644.7 571.5,648.8 580.5,650.7 589.5,647.5 598.5,648.5 607.5,661.8 616.5,674.0 625.5,687.0 634.5,693.5 643.5,697.3 652.5,687.0 661.5,665.3 670.5,650.5 679.5,648.0 688.5,649.7 697.5,650.1 706.5,657.8 715.5,671.0 724.5,682.8 733.5,679.4 742.5,670.3 751.5,657.9 760.5,664.4 769.5,676.2 778.5,691.8 787.5,692.9 796.5,691.2 805.5,688.8 814.5,690.3 823.5,692.9 832.5,696.7 841.5,693.4 850.5,695.9 859.5,693.2 868.5,697.1 877.5,697.8 886.5,697.1 895.5,696.8 904.5,690.9 913.5,680.7 922.5,675.2 931.5,664.6 940.5,662.2 949.5,649.9 958.5,664.7 967.5,680.8 976.5,698.3 985.5,689.4 994.5,678.0 1003.5,670.9 1012.5,673.4 1021.5,678.5 1030.5,683.5 1039.5,681.0 1048.5,670.5 1057.5,655.6 1066.5,644.4 1075.5,644.6 1084.5,650.7 1093.5,669.5 1102.5,681.1 1111.5,689.3 1120.5,683.6 1129.5,685.4 1138.5,691.1 1147.5,699.3 1156.5,703.3 1165.5,702.0 1174.5,700.8 1183.5,695.4 1192.5,688.9 1201.5,673.2 1210.5,660.5 1219.5,647.3 1228.5,644.5 1237.5,644.9 1246.5,649.0 1255.5,647.5 1264.5,647.6 1273.5,654.0 1282.5,664.0 1291.5,671.2 1300.5,678.7 1309.5,690.3 1318.5,703.5 1327.5,700.4 1336.5,697.9 1345.5,697.5 1354.5,689.6 1363.5,687.9 1372.5,685.0 1381.5,697.3 1390.5,701.4 1399.5,700.8 1408.5,692.8 1417.5,677.6 1426.5,664.3 1435.5,663.7 1444.5,666.3 1453.5,670.8 1462.5,666.4 1471.5,670.2 1480.5,673.0 1489.5,684.2 1498.5,685.9 1507.5,684.7 1516.5,680.8 1525.5,686.8 1534.5,691.6 1543.5,695.9 1552.5,692.8"/>
<polyline fill="none" shape-rendering="crispEdges" stroke="#ff0000" stroke-width="1" points="-4.5,700.2 4.5,694.7 13.5,689.2 22.5,684.2 31.5,681.8 40.5,682.6 49.5,686.0 58.5,684.6 67.5,677.5 76.5,664.5 85.5,656.9 94.5,654.2 103.5,653.8 112.5,654.8 121.5,656.2 130.5,659.9 139.5,660.4 148.5,660.6 157.5,662.0 166.5,667.8 175.5,677.1 184.5,685.7 193.5,691.6 202.5,692.6 211.5,690.2 220.5,684.6 229.5,675.7 238.5,664.7 247.5,656.4 256.5,651.2 265.5,650.4 274.5,650.6 283.5,657.9 292.5,669.8 301.5,682.0 310.5,687.7 319.5,685.9 328.5,679.9 337.5,672.0 346.5,670.1 355.5,675.8 364.5,685.9 373.5,688.0 382.5,682.0 391.5,672.1 400.5,668.0 409.5,666.8 418.5,666.3 427.5,662.3 436.5,658.5 445.5,658.3 454.5,662.7 463.5,670.2 472.5,677.9 481.5,687.8 490.5,694.5 499.5,697.3 508.5,694.1 517.5,685.4 526.5,674.8 535.5,660.1 544.5,649.8 553.5,642.8 562.5,642.6 571.5,644.9 580.5,648.1 589.5,649.0 598.5,648.9 607.5,652.6 616.5,661.4 625.5,674.3 634.5,684.8 643.5,692.6 652.5,692.6 661.5,683.2 670.5,667.6 679.5,654.6 688.5,649.4 697.5,649.3 706.5,652.5 715.5,659.6 724.5,670.5 733.5,677.7 742.5,677.5 751.5,669.2 760.5,664.2 769.5,666.2 778.5,677.5 787.5,687.0 796.5,692.0 805.5,691.0 814.5,690.1 823.5,690.7 832.5,693.3 841.5,694.3 850.5,695.3 859.5,694.1 868.5,695.4 877.5,696.0 886.5,697.4 895.5,697.3 904.5,694.9 913.5,689.5 922.5,682.2 931.5,673.5 940.5,667.3 949.5,658.9 958.5,658.9 967.5,665.1 976.5,681.3 985.5,689.5 994.5,688.6 1003.5,679.4 1012.5,674.1 1021.5,674.3 1030.5,678.5 1039.5,681.0 1048.5,678.3 1057.5,669.1 1066.5,656.9 1075.5,648.2 1084.5,646.6 1093.5,654.9 1102.5,667.1 1111.5,680.0 1120.5,684.7 1129.5,686.1 1138.5,686.7 1147.5,691.9 1156.5,697.9 1165.5,701.5 1174.5,702.0 1183.5,699.4 1192.5,695.0 1201.5,685.8 1210.5,674.2 1219.5,660.4 1228.5,650.8 1237.5,645.6 1246.5,646.1 1255.5,647.1 1264.5,648.0 1273.5,649.7 1282.5,655.2 1291.5,663.1 1300.5,671.3 1309.5,680.1 1318.5,690.8 1327.5,698.0 1336.5,700.6 1345.5,698.6 1354.5,695.0 1363.5,691.7 1372.5,687.5 1381.5,690.1 1390.5,694.5 1399.5,699.8 1408.5,698.3 1417.5,690.4 1426.5,678.2 1435.5,668.5 1444.5,664.8 1453.5,666.9 1462.5,667.8 1471.5,669.1 1480.5,669.9 1489.5,675.8 1498.5,681.0 1507.5,684.9 1516.5,683.8 1525.5,684.1 1534.5,686.4 1543.5,691.4 1552.5,693.5"/>
<g shape-rendering="crispEdges" fill="#0000ff">
<rect x="1.0" y="769" width="7" height="15"/>
<rect x="10.0" y="767" width="7" height="17"/>
<rect x="19.0" y="776" width="7" height="8"/>
<rect x="28.0" y="777" width="7" height="7"/>
<rect x="37.0" y="774" width="7" height="10"/>
<rect x="46.0" y="771" width="7" height="13"/>
<rect x="55.0" y="765" width="7" height="19"/>
<rect x="64.0" y="764" width="7" height="20"/>
<rect x="73.0" y="766" width="7" height="18"/>
<rect x="82.0" y="768" width="7" height="16"/>
<rect x="91.0" y="764" width="7" height="20"/>
<rect x="100.0" y="771" width="7" height="13"/>
<rect x="109.0" y="764" width="7" height="20"/>
<rect x="118.0" y="754" width="7" height="30"/>
<rect x="127.0" y="756" width="7" height="28"/>
<rect x="136.0" y="760" width="7" height="24"/>
<rect x="145.0" y="773" width="7" height="11"/>
<rect x="154.0" y="776" width="7" height="8"/>
<rect x="163.0" y="774" width="7" height="10"/>
<rect x="172.0" y="774" width="7" height="10"/>
<rect x="181.0" y="775" width="7" height="9"/>
<rect x="190.0" y="783" width="7" height="1"/>
<rect x="199.0" y="776" width="7" height="8"/>
<rect x="208.0" y="780" width="7" height="4"/>
<rect x="217.0" y="771" width="7" height="13"/>
<rect x="226.0" y="771" width="7" height="13"/>
<rect x="235.0" y="769" width="7" height="15"/>
<rect x="244.0" y="775" width="7" height="9"/>
<rect x="253.0" y="777" width="7" height="7"/>
<rect x="262.0" y="775" width="7" height="9"/>
<rect x="271.0" y="767" width="7" height="17"/>
<rect x="280.0" y="757" width="7" height="27"/>
<rect x="289.0" y="764" width="7" height="20"/>
<rect x="298.0" y="770" width="7" height="14"/>
<rect x="307.0" y="770" width="7" height="14"/>
<rect x="316.0" y="771" width="7" height="13"/>
<rect x="325.0" y="761" width="7" height="23"/>
<rect x="334.0" y="765" width="7" height="19"/>
<rect x="343.0" y="760" width="7" height="24"/>
<rect x="352.0" y="768" width="7" height="16"/>
<rect x="361.0" y="771" width="7" height="13"/>
<rect x="370.0" y="773" width="7" height="11"/>
<rect x="379.0" y="773" width="7" height="11"/>
<rect x="388.0" y="775" width="7" height="9"/>
<rect x="397.0" y="780" width="7" height="4"/>
<rect x="406.0" y="780" width="7" height="4"/>
<rect x="415.0" y="779" width="7" height="5"/>
<rect x="424.0" y="779" width="7" height="5"/>
<rect x="433.0" y="774" width="7" height="10"/>
<rect x="442.0" y="769" width="7" height="15"/>
<rect x="451.0" y="776" width="7" height="8"/>
<rect x="460.0" y="777" width="7" height="7"/>
<rect x="469.0" y="771" width="7" height="13"/>
<rect x="478.0" y="772" width="7" height="12"/>
<rect x="487.0" y="769" width="7" height="15"/>
<rect x="496.0" y="767" width="7" height="17"/>
<rect x="505.0" y="763" width="7" height="21"/>
<rect x="514.0" y="758" width="7" height="26"/>
<rect x="523.0" y="770" width="7" height="14"/>
<rect x="532.0" y="764" width="7" height="20"/>
<rect x="541.0" y="760" width="7" height="24"/>
<rect x="550.0" y="769" width="7" height="15"/>
<rect x="559.0" y="754" width="7" height="30"/>
<rect x="568.0" y="765" width="7" height="19"/>
<rect x="577.0" y="776" width="7" height="8"/>
<rect x="586.0" y="775" width="7" height="9"/>
<rect x="595.0" y="775" width="7" height="9"/>
<rect x="604.0" y="773" width="7" height="11"/>
<rect x="613.0" y="776" width="7" height="8"/>
<rect x="622.0" y="779" width="7" height="5"/>
<rect x="631.0" y="778" width="7" height="6"/>
<rect x="640.0" y="778" width="7" height="6"/>
<rect x="649.0" y="772" width="7" height="12"/>
<rect x="658.0" y="765" width="7" height="19"/>
<rect x="667.0" y="769" width="7" height="15"/>
<rect x="676.0" y="774" width="7" height="10"/>
<rect x="685.0" y="773" width="7" height="11"/>
<rect x="694.0" y="773" width="7" height="11"/>
<rect x="703.0" y="764" width="7" height="20"/>
<rect x="712.0" y="769" width="7" height="15"/>
<rect x="721.0" y="762" width="7" height="22"/>
<rect x="730.0" y="763" width="7" height="21"/>
<rect x="739.0" y="770" width="7" height="14"/>
<rect x="748.0" y="769" width="7" height="15"/>
<rect x="757.0" y="759" width="7" height="25"/>
<rect x="766.0" y="763" width="7" height="21"/>
<rect x="775.0" y="754" width="7" height="30"/>
<rect x="784.0" y="758" width="7" height="26"/>
<rect x="793.0" y="771" width="7" height="13"/>
<rect x="802.0" y="772" width="7" height="12"/>
<rect x="811.0" y="774" width="7" height="10"/>
<rect x="820.0" y="774" width="7" height="10"/>
<rect x="829.0" y="776" width="7" height="8"/>
<rect x="838.0" y="781" width="7" height="3"/>
<rect x="847.0" y="779" width="7" height="5"/>
<rect x="856.0" y="779" width="7" height="5"/>
<rect x="865.0" y="772" width="7" height="12"/>
<rect x="874.0" y="769" width="7" height="15"/>
<rect x="883.0" y="773" width="7" height="11"/>
<rect x="892.0" y="776" width="7" height="8"/>
<rect x="901.0" y="774" width="7" height="10"/>
<rect x="910.0" y="775" width="7" height="9"/>
<rect x="919.0" y="766" width="7" height="18"/>
<rect x="928.0" y="767" width="7" height="17"/>
<rect x="937.0" y="771" width="7" height="13"/>
<rect x="946.0" y="770" width="7" height="14"/>
<rect x="955.0" y="769" width="7" height="15"/>
<rect x="964.0" y="747" width="7" height="37"/>
<rect x="973.0" y="722" width="7" height="62"/>
<rect x="982.0" y="730" width="7" height="54"/>
<rect x="991.0" y="729" width="7" height="55"/>
<rect x="1000.0" y="750" width="7" height="34"/>
<rect x="1009.0" y="757" width="7" height="27"/>
<rect x="1018.0" y="763" width="7" height="21"/>
<rect x="1027.0" y="763" width="7" height="21"/>
<rect x="1036.0" y="769" width="7" height="15"/>
<rect x="1045.0" y="771" width="7" height="13"/>
<rect x="1054.0" y="780" width="7" height="4"/>
<rect x="1063.0" y="778" width="7" height="6"/>
<rect x="1072.0" y="777" width="7" height="7"/>
<rect x="1081.0" y="774" width="7" height="10"/>
<rect x="1090.0" y="771" width="7" height="13"/>
<rect x="1099.0" y="773" width="7" height="11"/>
<rect x="1108.0" y="773" width="7" height="11"/>
<rect x="1117.0" y="773" width="7" height="11"/>
<rect x="1126.0" y="771" width="7" height="13"/>
<rect x="1135.0" y="768" width="7" height="16"/>
<rect x="1144.0" y="762" width="7" height="22"/>
<rect x="1153.0" y="760" width="7" height="24"/>
<rect x="1162.0" y="769" width="7" height="15"/>
<rect x="1171.0" y="769" width="7" height="15"/>
<rect x="1180.0" y="769" width="7" height="15"/>
<rect x="1189.0" y="732" width="7" height="52"/>
<rect x="1198.0" y="745" width="7" height="39"/>
<rect x="1207.0" y="757" width="7" height="27"/>
<rect x="1216.0" y="767" width="7" height="17"/>
<rect x="1225.0" y="775" width="7" height="9"/>
<rect x="1234.0" y="775" width="7" height="9"/>
<rect x="1243.0" y="777" width="7" height="7"/>
<rect x="1252.0" y="778" width="7" height="6"/>
<rect x="1261.0" y="774" width="7" height="10"/>
<rect x="1270.0" y="783" width="7" height="1"/>
<rect x="1279.0" y="781" width="7" height="3"/>
<rect x="1288.0" y="780" width="7" height="4"/>
<rect x="1297.0" y="778" width="7" height="6"/>
<rect x="1306.0" y="777" width="7" height="7"/>
<rect x="1315.0" y="778" width="7" height="6"/>
<rect x="1324.0" y="780" width="7" height="4"/>
<rect x="1333.0" y="780" width="7" height="4"/>
<rect x="1342.0" y="779" width="7" height="5"/>
<rect x="1351.0" y="769" width="7" height="15"/>
<rect x="1360.0" y="768" width="7" height="16"/>
<rect x="1369.0" y="769" width="7" height="15"/>
<rect x="1378.0" y="768" width="7" height="16"/>
<rect x="1387.0" y="766" width="7" height="18"/>
<rect x="1396.0" y="767" width="7" height="17"/>
<rect x="1405.0" y="764" width="7" height="20"/>
<rect x="1414.0" y="755" width="7" height="29"/>
<rect x="1423.0" y="747" width="7" height="37"/>
<rect x="1432.0" y="743" width="7" height="41"/>
<rect x="1441.0" y="767" width="7" height="17"/>
<rect x="1450.0" y="765" width="7" height="19"/>
<rect x="1459.0" y="765" width="7" height="19"/>
<rect x="1468.0" y="768" width="7" height="16"/>
<rect x="1477.0" y="770" width="7" height="14"/>
<rect x="1486.0" y="781" width="7" height="3"/>
<rect x="1495.0" y="777" width="7" height="7"/>
<rect x="1504.0" y="776" width="7" height="8"/>
<rect x="1513.0" y="765" width="7" height="19"/>
<rect x="1522.0" y="760" width="7" height="24"/>
<rect x="1531.0" y="763" width="7" height="21"/>
<rect x="1540.0" y="767" width="7" height="17"/>
<rect x="1549.0" y="782" width="7" height="2"/>
</g>
<g shape-rendering="crispEdges" fill="#ff0000">
<rect x="1.0" y="831" width="7" height="8"/>
<rect x="10.0" y="831" width="7" height="9"/>
<rect x="19.0" y="831" width="7" height="8"/>
<rect x="28.0" y="831" width="7" height="9"/>
<rect x="37.0" y="831" width="7" height="9"/>
<rect x="46.0" y="831" width="7" height="9"/>
<rect x="55.0" y="831" width="7" height="6"/>
<rect x="64.0" y="831" width="7" height="3"/>
<rect x="73.0" y="831" width="7" height="1"/>
<rect x="82.0" y="830" width="7" height="1"/>
<rect x="91.0" y="829" width="7" height="2"/>
<rect x="100.0" y="828" width="7" height="3"/>
<rect x="109.0" y="827" width="7" height="4"/>
<rect x="118.0" y="826" width="7" height="5"/>
<rect x="127.0" y="825" width="7" height="6"/>
<rect x="136.0" y="824" width="7" height="7"/>
<rect x="145.0" y="824" width="7" height="7"/>
<rect x="154.0" y="826" width="7" height="5"/>
<rect x="163.0" y="827" width="7" height="4"/>
<rect x="172.0" y="828" width="7" height="3"/>
<rect x="181.0" y="830" width="7" height="1"/>
<rect x="199.0" y="831" width="7" height="1"/>
<rect x="208.0" y="831" width="7" height="1"/>
<rect x="217.0" y="831" width="7" height="1"/>
<rect x="235.0" y="830" width="7" height="1"/>
<rect x="244.0" y="830" width="7" height="1"/>
<rect x="253.0" y="828" width="7" height="3"/>
<rect x="262.0" y="827" width="7" height="4"/>
<rect x="271.0" y="828" width="7" height="3"/>
<rect x="280.0" y="829" width="7" height="2"/>
<rect x="298.0" y="831" width="7" height="1"/>
<rect x="307.0" y="831" width="7" height="2"/>
<rect x="316.0" y="831" width="7" height="2"/>
<rect x="343.0" y="831" width="7" height="2"/>
<rect x="352.0" y="831" width="7" height="3"/>
<rect x="361.0" y="831" width="7" height="2"/>
<rect x="370.0" y="831" width="7" height="1"/>
<rect x="406.0" y="830" width="7" height="1"/>
<rect x="415.0" y="829" width="7" height="2"/>
<rect x="424.0" y="829" width="7" height="2"/>
<rect x="433.0" y="829" width="7" height="2"/>
<rect x="442.0" y="830" width="7" height="1"/>
<rect x="451.0" y="830" width="7" height="1"/>
<rect x="460.0" y="831" width="7" height="1"/>
<rect x="469.0" y="831" width="7" height="2"/>
<rect x="478.0" y="831" width="7" height="5"/>
<rect x="487.0" y="831" width="7" height="6"/>
<rect x="496.0" y="831" width="7" height="6"/>
<rect x="505.0" y="831" width="7" height="6"/>
<rect x="514.0" y="831" width="7" height="4"/>
<rect x="523.0" y="831" width="7" height="2"/>
<rect x="541.0" y="828" width="7" height="3"/>
<rect x="550.0" y="825" width="7" height="6"/>
<rect x="559.0" y="823" width="7" height="8"/>
<rect x="568.0" y="821" width="7" height="10"/>
<rect x="577.0" y="820" width="7" height="11"/>
<rect x="586.0" y="819" width="7" height="12"/>
<rect x="595.0" y="820" width="7" height="11"/>
<rect x="604.0" y="822" width="7" height="9"/>
<rect x="613.0" y="823" width="7" height="8"/>
<rect x="622.0" y="826" width="7" height="5"/>
<rect x="631.0" y="828" width="7" height="3"/>
<rect x="640.0" y="830" width="7" height="1"/>
<rect x="658.0" y="830" width="7" height="1"/>
<rect x="667.0" y="830" width="7" height="1"/>
<rect x="712.0" y="831" width="7" height="1"/>
<rect x="721.0" y="831" width="7" height="2"/>
<rect x="730.0" y="831" width="7" height="2"/>
<rect x="739.0" y="831" width="7" height="1"/>
<rect x="757.0" y="831" width="7" height="2"/>
<rect x="766.0" y="831" width="7" height="3"/>
<rect x="775.0" y="831" width="7" height="4"/>
<rect x="784.0" y="831" width="7" height="5"/>
<rect x="793.0" y="831" width="7" height="5"/>
<rect x="802.0" y="831" width="7" height="5"/>
<rect x="811.0" y="831" width="7" height="6"/>
<rect x="820.0" y="831" width="7" height="7"/>
<rect x="829.0" y="831" width="7" height="7"/>
<rect x="838.0" y="831" width="7" height="7"/>
<rect x="847.0" y="831" width="7" height="7"/>
<rect x="856.0" y="831" width="7" height="7"/>
<rect x="865.0" y="831" width="7" height="8"/>
<rect x="874.0" y="831" width="7" height="9"/>
<rect x="883.0" y="831" width="7" height="9"/>
<rect x="892.0" y="831" width="7" height="8"/>
<rect x="901.0" y="831" width="7" height="9"/>
<rect x="910.0" y="831" width="7" height="7"/>
<rect x="919.0" y="831" width="7" height="7"/>
<rect x="928.0" y="831" width="7" height="5"/>
<rect x="937.0" y="831" width="7" height="3"/>
<rect x="946.0" y="831" width="7" height="1"/>
<rect x="955.0" y="831" width="7" height="2"/>
<rect x="964.0" y="831" width="7" height="6"/>
<rect x="973.0" y="831" width="7" height="13"/>
<rect x="982.0" y="831" width="7" height="11"/>
<rect x="991.0" y="831" width="7" height="8"/>
<rect x="1000.0" y="831" width="7" height="8"/>
<rect x="1009.0" y="831" width="7" height="8"/>
<rect x="1018.0" y="831" width="7" height="6"/>
<rect x="1027.0" y="831" width="7" height="4"/>
<rect x="1036.0" y="831" width="7" height="2"/>
<rect x="1054.0" y="829" width="7" height="2"/>
<rect x="1063.0" y="827" width="7" height="4"/>
<rect x="1072.0" y="825" width="7" height="6"/>
<rect x="1081.0" y="824" width="7" height="7"/>
<rect x="1090.0" y="825" width="7" height="6"/>
<rect x="1099.0" y="825" width="7" height="6"/>
<rect x="1108.0" y="826" width="7" height="5"/>
<rect x="1117.0" y="826" width="7" height="5"/>
<rect x="1126.0" y="826" width="7" height="5"/>
<rect x="1135.0" y="829" width="7" height="2"/>
<rect x="1144.0" y="831" width="7" height="3"/>
<rect x="1153.0" y="831" width="7" height="8"/>
<rect x="1162.0" y="831" width="7" height="11"/>
<rect x="1171.0" y="831" width="7" height="12"/>
<rect x="1180.0" y="831" width="7" height="10"/>
<rect x="1189.0" y="831" width="7" height="9"/>
<rect x="1198.0" y="831" width="7" height="4"/>
<rect x="1216.0" y="828" width="7" height="3"/>
<rect x="1225.0" y="826" width="7" height="5"/>
<rect x="1234.0" y="825" width="7" height="6"/>
<rect x="1243.0" y="824" width="7" height="7"/>
<rect x="1252.0" y="822" width="7" height="9"/>
<rect x="1261.0" y="822" width="7" height="9"/>
<rect x="1270.0" y="823" width="7" height="8"/>
<rect x="1279.0" y="823" width="7" height="8"/>
<rect x="1288.0" y="824" width="7" height="7"/>
<rect x="1297.0" y="826" width="7" height="5"/>
<rect x="1306.0" y="828" width="7" height="3"/>
<rect x="1315.0" y="830" width="7" height="1"/>
<rect x="1342.0" y="831" width="7" height="1"/>
<rect x="1351.0" y="831" width="7" height="1"/>
<rect x="1360.0" y="831" width="7" height="1"/>
<rect x="1369.0" y="831" width="7" height="2"/>
<rect x="1378.0" y="831" width="7" height="2"/>
<rect x="1387.0" y="831" width="7" height="3"/>
<rect x="1396.0" y="831" width="7" height="4"/>
<rect x="1405.0" y="831" width="7" height="3"/>
<rect x="1414.0" y="831" width="7" height="2"/>
<rect x="1441.0" y="830" width="7" height="1"/>
<rect x="1450.0" y="829" width="7" height="2"/>
<rect x="1459.0" y="828" width="7" height="3"/>
<rect x="1468.0" y="828" width="7" height="3"/>
<rect x="1477.0" y="828" width="7" height="3"/>
<rect x="1486.0" y="829" width="7" height="2"/>
<rect x="1495.0" y="829" width="7" height="2"/>
<rect x="1504.0" y="829" width="7" height="2"/>
<rect x="1513.0" y="830" width="7" height="1"/>
<rect x="1522.0" y="831" width="7" height="1"/>
<rect x="1531.0" y="831" width="7" height="1"/>
<rect x="1540.0" y="831" width="7" height="1"/>
<rect x="1549.0" y="831" width="7" height="1"/>
</g>
<g stroke="#00ff00" stroke-width="1" stroke-dasharray="5.5,30" fill="none">
<line x1="4.5" y1="820.6" x2="13.5" y2="822.8"/>
<line x1="13.5" y1="822.8" x2="22.5" y2="824.8"/>
<line x1="22.5" y1="824.8" x2="31.5" y2="827.0"/>
<line x1="31.5" y1="827.0" x2="40.5" y2="829.2"/>
<line x1="40.5" y1="829.2" x2="49.5" y2="831.5"/>
<line x1="49.5" y1="831.5" x2="58.5" y2="833.0"/>
<line x1="58.5" y1="833.0" x2="67.5" y2="833.7"/>
<line x1="67.5" y1="833.7" x2="76.5" y2="834.0"/>
<line x1="76.5" y1="834.0" x2="85.5" y2="833.7"/>
<line x1="85.5" y1="833.7" x2="94.5" y2="833.3"/>
<line x1="94.5" y1="833.3" x2="103.5" y2="832.4"/>
<line x1="103.5" y1="832.4" x2="112.5" y2="831.3"/>
<line x1="112.5" y1="831.3" x2="121.5" y2="830.0"/>
<line x1="121.5" y1="830.0" x2="130.5" y2="828.4"/>
<line x1="130.5" y1="828.4" x2="139.5" y2="826.6"/>
<line x1="139.5" y1="826.6" x2="148.5" y2="825.0"/>
<line x1="148.5" y1="825.0" x2="157.5" y2="823.6"/>
<line x1="157.5" y1="823.6" x2="166.5" y2="822.5"/>
<line x1="166.5" y1="822.5" x2="175.5" y2="821.9"/>
<line x1="175.5" y1="821.9" x2="184.5" y2="821.7"/>
<line x1="184.5" y1="821.7" x2="193.5" y2="821.7"/>
<line x1="193.5" y1="821.7" x2="202.5" y2="822.1"/>
<line x1="202.5" y1="822.1" x2="211.5" y2="822.4"/>
<line x1="211.5" y1="822.4" x2="220.5" y2="822.6"/>
<line x1="220.5" y1="822.6" x2="229.5" y2="822.6"/>
<line x1="229.5" y1="822.6" x2="238.5" y2="822.3"/>
<line x1="238.5" y1="822.3" x2="247.5" y2="822.0"/>
<line x1="247.5" y1="822.0" x2="256.5" y2="821.3"/>
<line x1="256.5" y1="821.3" x2="265.5" y2="820.4"/>
<line x1="265.5" y1="820.4" x2="274.5" y2="819.6"/>
<line x1="274.5" y1="819.6" x2="283.5" y2="819.2"/>
<line x1="283.5" y1="819.2" x2="292.5" y2="819.3"/>
<line x1="292.5" y1="819.3" x2="301.5" y2="819.5"/>
<line x1="301.5" y1="819.5" x2="310.5" y2="820.1"/>
<line x1="310.5" y1="820.1" x2="319.5" y2="820.6"/>
<line x1="319.5" y1="820.6" x2="328.5" y2="820.5"/>
<line x1="328.5" y1="820.5" x2="337.5" y2="820.5"/>
<line x1="337.5" y1="820.5" x2="346.5" y2="821.0"/>
<line x1="346.5" y1="821.0" x2="355.5" y2="821.6"/>
<line x1="355.5" y1="821.6" x2="364.5" y2="822.2"/>
<line x1="364.5" y1="822.2" x2="373.5" y2="822.5"/>
<line x1="373.5" y1="822.5" x2="382.5" y2="822.6"/>
<line x1="382.5" y1="822.6" x2="391.5" y2="822.5"/>
<line x1="391.5" y1="822.5" x2="400.5" y2="822.4"/>
<line x1="400.5" y1="822.4" x2="409.5" y2="822.2"/>
<line x1="409.5" y1="822.2" x2="418.5" y2="821.8"/>
<line x1="418.5" y1="821.8" x2="427.5" y2="821.2"/>
<line x1="427.5" y1="821.2" x2="436.5" y2="820.8"/>
<line x1="436.5" y1="820.8" x2="445.5" y2="820.5"/>
<line x1="445.5" y1="820.5" x2="454.5" y2="820.3"/>
<line x1="454.5" y1="820.3" x2="463.5" y2="820.5"/>
<line x1="463.5" y1="820.5" x2="472.5" y2="821.1"/>
<line x1="472.5" y1="821.1" x2="481.5" y2="822.3"/>
<line x1="481.5" y1="822.3" x2="490.5" y2="823.9"/>
<line x1="490.5" y1="823.9" x2="499.5" y2="825.3"/>
<line x1="499.5" y1="825.3" x2="508.5" y2="826.9"/>
<line x1="508.5" y1="826.9" x2="517.5" y2="828.0"/>
<line x1="517.5" y1="828.0" x2="526.5" y2="828.5"/>
<line x1="526.5" y1="828.5" x2="535.5" y2="828.4"/>
<line x1="535.5" y1="828.4" x2="544.5" y2="827.6"/>
<line x1="544.5" y1="827.6" x2="553.5" y2="826.2"/>
<line x1="553.5" y1="826.2" x2="562.5" y2="824.2"/>
<line x1="562.5" y1="824.2" x2="571.5" y2="821.7"/>
<line x1="571.5" y1="821.7" x2="580.5" y2="819.0"/>
<line x1="580.5" y1="819.0" x2="589.5" y2="816.0"/>
<line x1="589.5" y1="816.0" x2="598.5" y2="813.3"/>
<line x1="598.5" y1="813.3" x2="607.5" y2="811.0"/>
<line x1="607.5" y1="811.0" x2="616.5" y2="809.2"/>
<line x1="616.5" y1="809.2" x2="625.5" y2="807.8"/>
<line x1="625.5" y1="807.8" x2="634.5" y2="807.1"/>
<line x1="634.5" y1="807.1" x2="643.5" y2="806.9"/>
<line x1="643.5" y1="806.9" x2="652.5" y2="806.8"/>
<line x1="652.5" y1="806.8" x2="661.5" y2="806.7"/>
<line x1="661.5" y1="806.7" x2="670.5" y2="806.5"/>
<line x1="670.5" y1="806.5" x2="679.5" y2="806.5"/>
<line x1="679.5" y1="806.5" x2="688.5" y2="806.4"/>
<line x1="688.5" y1="806.4" x2="697.5" y2="806.4"/>
<line x1="697.5" y1="806.4" x2="706.5" y2="806.5"/>
<line x1="706.5" y1="806.5" x2="715.5" y2="806.8"/>
<line x1="715.5" y1="806.8" x2="724.5" y2="807.3"/>
<line x1="724.5" y1="807.3" x2="733.5" y2="807.8"/>
<line x1="733.5" y1="807.8" x2="742.5" y2="808.1"/>
<line x1="742.5" y1="808.1" x2="751.5" y2="808.2"/>
<line x1="751.5" y1="808.2" x2="760.5" y2="808.7"/>
<line x1="760.5" y1="808.7" x2="769.5" y2="809.4"/>
<line x1="769.5" y1="809.4" x2="778.5" y2="810.4"/>
<line x1="778.5" y1="810.4" x2="787.5" y2="811.5"/>
<line x1="787.5" y1="811.5" x2="796.5" y2="812.7"/>
<line x1="796.5" y1="812.7" x2="805.5" y2="813.9"/>
<line x1="805.5" y1="813.9" x2="814.5" y2="815.4"/>
<line x1="814.5" y1="815.4" x2="823.5" y2="817.0"/>
<line x1="823.5" y1="817.0" x2="832.5" y2="818.8"/>
<line x1="832.5" y1="818.8" x2="841.5" y2="820.6"/>
<line x1="841.5" y1="820.6" x2="850.5" y2="822.5"/>
<line x1="850.5" y1="822.5" x2="859.5" y2="824.3"/>
<line x1="859.5" y1="824.3" x2="868.5" y2="826.2"/>
<line x1="868.5" y1="826.2" x2="877.5" y2="828.5"/>
<line x1="877.5" y1="828.5" x2="886.5" y2="830.6"/>
<line x1="886.5" y1="830.6" x2="895.5" y2="832.7"/>
<line x1="895.5" y1="832.7" x2="904.5" y2="834.8"/>
<line x1="904.5" y1="834.8" x2="913.5" y2="836.5"/>
<line x1="913.5" y1="836.5" x2="922.5" y2="838.1"/>
<line x1="922.5" y1="838.1" x2="931.5" y2="839.2"/>
<line x1="931.5" y1="839.2" x2="940.5" y2="840.0"/>
<line x1="940.5" y1="840.0" x2="949.5" y2="840.3"/>
<line x1="949.5" y1="840.3" x2="958.5" y2="840.8"/>
<line x1="958.5" y1="840.8" x2="967.5" y2="842.4"/>
<line x1="967.5" y1="842.4" x2="976.5" y2="845.5"/>
<line x1="976.5" y1="845.5" x2="985.5" y2="848.4"/>
<line x1="985.5" y1="848.4" x2="994.5" y2="850.3"/>
<line x1="994.5" y1="850.3" x2="1003.5" y2="852.2"/>
<line x1="1003.5" y1="852.2" x2="1012.5" y2="854.1"/>
<line x1="1012.5" y1="854.1" x2="1021.5" y2="855.6"/>
<line x1="1021.5" y1="855.6" x2="1030.5" y2="856.6"/>
<line x1="1030.5" y1="856.6" x2="1039.5" y2="857.2"/>
<line x1="1039.5" y1="857.2" x2="1048.5" y2="857.3"/>
<line x1="1048.5" y1="857.3" x2="1057.5" y2="856.8"/>
<line x1="1057.5" y1="856.8" x2="1066.5" y2="855.8"/>
<line x1="1066.5" y1="855.8" x2="1075.5" y2="854.3"/>
<line x1="1075.5" y1="854.3" x2="1084.5" y2="852.6"/>
<line x1="1084.5" y1="852.6" x2="1093.5" y2="851.2"/>
<line x1="1093.5" y1="851.2" x2="1102.5" y2="849.7"/>
<line x1="1102.5" y1="849.7" x2="1111.5" y2="848.5"/>
<line x1="1111.5" y1="848.5" x2="1120.5" y2="847.2"/>
<line x1="1120.5" y1="847.2" x2="1129.5" y2="846.1"/>
<line x1="1129.5" y1="846.1" x2="1138.5" y2="845.5"/>
<line x1="1138.5" y1="845.5" x2="1147.5" y2="846.1"/>
<line x1="1147.5" y1="846.1" x2="1156.5" y2="848.0"/>
<line x1="1156.5" y1="848.0" x2="1165.5" y2="850.7"/>
<line x1="1165.5" y1="850.7" x2="1174.5" y2="853.6"/>
<line x1="1174.5" y1="853.6" x2="1183.5" y2="856.0"/>
<line x1="1183.5" y1="856.0" x2="1192.5" y2="858.2"/>
<line x1="1192.5" y1="858.2" x2="1201.5" y2="859.2"/>
<line x1="1201.5" y1="859.2" x2="1210.5" y2="859.2"/>
<line x1="1210.5" y1="859.2" x2="1219.5" y2="858.5"/>
<line x1="1219.5" y1="858.5" x2="1228.5" y2="857.2"/>
<line x1="1228.5" y1="857.2" x2="1237.5" y2="855.6"/>
<line x1="1237.5" y1="855.6" x2="1246.5" y2="853.9"/>
<line x1="1246.5" y1="853.9" x2="1255.5" y2="851.7"/>
<line x1="1255.5" y1="851.7" x2="1264.5" y2="849.4"/>
<line x1="1264.5" y1="849.4" x2="1273.5" y2="847.3"/>
<line x1="1273.5" y1="847.3" x2="1282.5" y2="845.4"/>
<line x1="1282.5" y1="845.4" x2="1291.5" y2="843.7"/>
<line x1="1291.5" y1="843.7" x2="1300.5" y2="842.4"/>
<line x1="1300.5" y1="842.4" x2="1309.5" y2="841.7"/>
<line x1="1309.5" y1="841.7" x2="1318.5" y2="841.5"/>
<line x1="1318.5" y1="841.5" x2="1327.5" y2="841.5"/>
<line x1="1327.5" y1="841.5" x2="1336.5" y2="841.6"/>
<line x1="1336.5" y1="841.6" x2="1345.5" y2="841.9"/>
<line x1="1345.5" y1="841.9" x2="1354.5" y2="842.1"/>
<line x1="1354.5" y1="842.1" x2="1363.5" y2="842.4"/>
<line x1="1363.5" y1="842.4" x2="1372.5" y2="842.9"/>
<line x1="1372.5" y1="842.9" x2="1381.5" y2="843.5"/>
<line x1="1381.5" y1="843.5" x2="1390.5" y2="844.3"/>
<line x1="1390.5" y1="844.3" x2="1399.5" y2="845.3"/>
<line x1="1399.5" y1="845.3" x2="1408.5" y2="846.1"/>
<line x1="1408.5" y1="846.1" x2="1417.5" y2="846.6"/>
<line x1="1417.5" y1="846.6" x2="1426.5" y2="846.7"/>
<line x1="1426.5" y1="846.7" x2="1435.5" y2="846.7"/>
<line x1="1435.5" y1="846.7" x2="1444.5" y2="846.5"/>
<line x1="1444.5" y1="846.5" x2="1453.5" y2="846.1"/>
<line x1="1453.5" y1="846.1" x2="1462.5" y2="845.5"/>
<line x1="1462.5" y1="845.5" x2="1471.5" y2="844.8"/>
<line x1="1471.5" y1="844.8" x2="1480.5" y2="844.2"/>
<line x1="1480.5" y1="844.2" x2="1489.5" y2="843.7"/>
<line x1="1489.5" y1="843.7" x2="1498.5" y2="843.3"/>
<line x1="1498.5" y1="843.3" x2="1507.5" y2="842.9"/>
<line x1="1507.5" y1="842.9" x2="1516.5" y2="842.7"/>
<line x1="1516.5" y1="842.7" x2="1525.5" y2="842.9"/>
<line x1="1525.5" y1="842.9" x2="1534.5" y2="843.1"/>
<line x1="1534.5" y1="843.1" x2="1543.5" y2="843.4"/>
<line x1="1543.5" y1="843.4" x2="1552.5" y2="843.7"/>
</g>
<polyline fill="none" shape-rendering="crispEdges" stroke="#0000ff" stroke-width="1" points="-4.5,825.0 4.5,828.2 13.5,831.4 22.5,832.9 31.5,835.5 40.5,838.1 49.5,840.8 58.5,838.8 67.5,836.4 76.5,835.1 85.5,832.7 94.5,831.5 103.5,829.0 112.5,827.1 121.5,824.5 130.5,822.0 139.5,819.4 148.5,818.5 157.5,818.2 166.5,818.2 175.5,819.3 184.5,820.9 193.5,821.8 202.5,823.5 211.5,823.8 220.5,823.2 229.5,822.8 238.5,821.1 247.5,820.6 256.5,818.5 265.5,816.9 274.5,816.5 283.5,817.5 292.5,819.6 301.5,820.5 310.5,822.4 319.5,822.5 328.5,820.5 337.5,820.3 346.5,822.8 355.5,824.3 364.5,824.6 373.5,823.5 382.5,823.0 391.5,822.3 400.5,822.0 409.5,821.5 418.5,820.0 427.5,818.8 436.5,819.0 445.5,819.3 454.5,819.6 463.5,821.3 472.5,823.3 481.5,827.2 490.5,830.3 499.5,831.1 508.5,833.3 517.5,832.3 526.5,830.2 535.5,828.1 544.5,824.3 553.5,820.7 562.5,816.0 571.5,812.0 580.5,808.1 589.5,804.2 598.5,802.4 607.5,802.0 616.5,801.7 625.5,802.5 634.5,804.1 643.5,806.1 652.5,806.6 661.5,806.2 670.5,805.7 679.5,806.4 688.5,806.3 697.5,806.0 706.5,806.8 715.5,808.0 724.5,809.3 733.5,809.7 742.5,809.5 751.5,808.6 760.5,810.6 769.5,812.3 778.5,814.4 787.5,816.1 796.5,817.2 805.5,819.0 814.5,821.3 823.5,823.5 832.5,826.1 841.5,827.7 850.5,829.9 859.5,831.3 868.5,834.1 877.5,837.4 886.5,839.1 895.5,841.1 904.5,843.4 913.5,843.1 922.5,844.5 931.5,843.9 940.5,842.8 949.5,841.4 958.5,843.0 967.5,848.6 976.5,858.3 985.5,859.8 994.5,858.2 1003.5,859.7 1012.5,861.8 1021.5,861.7 1030.5,860.7 1039.5,859.5 1048.5,857.6 1057.5,855.0 1066.5,851.8 1075.5,848.0 1084.5,846.1 1093.5,845.3 1102.5,844.1 1111.5,843.3 1120.5,842.1 1129.5,841.6 1138.5,843.2 1147.5,848.6 1156.5,855.7 1165.5,861.5 1174.5,865.3 1183.5,865.7 1192.5,866.6 1201.5,863.5 1210.5,859.3 1219.5,855.4 1228.5,852.0 1237.5,849.5 1246.5,846.7 1255.5,843.1 1264.5,840.3 1273.5,839.0 1282.5,837.7 1291.5,836.7 1300.5,837.2 1309.5,839.1 1318.5,840.9 1327.5,841.3 1336.5,842.0 1345.5,843.1 1354.5,842.9 1363.5,843.6 1372.5,844.7 1381.5,845.9 1390.5,847.7 1399.5,849.2 1408.5,849.3 1417.5,848.8 1426.5,847.1 1435.5,846.8 1444.5,845.6 1453.5,844.5 1462.5,842.9 1471.5,842.1 1480.5,841.7 1489.5,841.7 1498.5,841.8 1507.5,841.4 1516.5,841.9 1525.5,843.4 1534.5,844.0 1543.5,844.7 1552.5,844.9"/>
<g shape-rendering="crispEdges">
<line x1="1552" y1="604.5" x2="1582" y2="604.5" stroke="#000" stroke-width="1"/>
<line x1="1552" y1="692.5" x2="1582" y2="692.5" stroke="#000" stroke-width="1"/>
<line x1="1552" y1="693.5" x2="1582" y2="693.5" stroke="#000" stroke-width="1"/>
</g>
</svg>
</body></html>
